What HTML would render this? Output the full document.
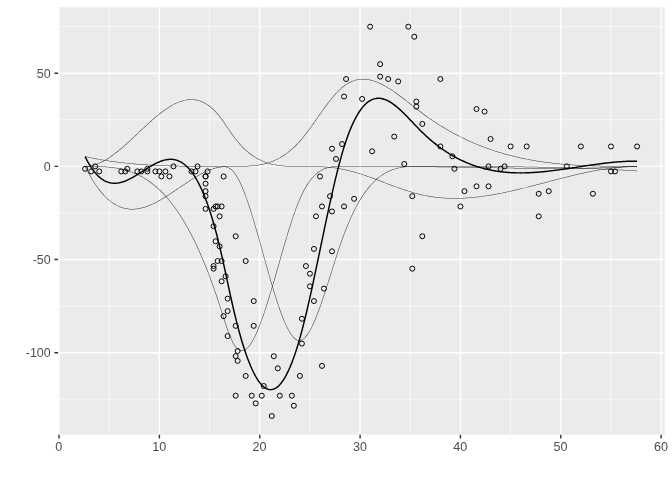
<!DOCTYPE html>
<html><head><meta charset="utf-8"><title>plot</title>
<style>html,body{margin:0;padding:0;background:#fff}svg{display:block}text{font-family:"Liberation Sans",sans-serif;font-size:12px;fill:#4d4d4d}</style></head><body>
<svg width="672" height="480" viewBox="0 0 672 480">
<rect width="672" height="480" fill="#fff"/>
<rect x="58.1" y="7.33" width="606.57" height="427.42" fill="#ebebeb"/>
<clipPath id="c"><rect x="58.1" y="7.33" width="606.57" height="427.42"/></clipPath>
<g clip-path="url(#c)">
<path d="M109.22 7.33V434.75M209.57 7.33V434.75M309.93 7.33V434.75M410.28 7.33V434.75M510.62 7.33V434.75M610.97 7.33V434.75M58.1 26.68H664.67M58.1 119.82H664.67M58.1 212.96H664.67M58.1 306.10H664.67M58.1 399.24H664.67" stroke="#fff" stroke-width="0.71" fill="none"/>
<path d="M59.05 7.33V434.75M159.40 7.33V434.75M259.75 7.33V434.75M360.10 7.33V434.75M460.45 7.33V434.75M560.80 7.33V434.75M661.15 7.33V434.75M58.1 73.25H664.67M58.1 166.39H664.67M58.1 259.53H664.67M58.1 352.67H664.67" stroke="#fff" stroke-width="1.42" fill="none"/>
<path d="M85.09 156.86L86.09 157.08L87.10 157.29L88.10 157.51L89.10 157.71L90.11 157.92L91.11 158.12L92.12 158.32L93.12 158.51L94.13 158.70L95.13 158.89L96.13 159.08L97.14 159.26L98.14 159.44L99.15 159.62L100.15 159.79L101.16 159.97L102.16 160.13L103.16 160.30L104.17 160.46L105.17 160.62L106.18 160.78L107.18 160.93L108.18 161.09L109.19 161.23L110.19 161.38L111.20 161.52L112.20 161.66L113.21 161.80L114.21 161.94L115.21 162.07L116.22 162.20L117.22 162.33L118.23 162.46L119.23 162.58L120.23 162.70L121.24 162.82L122.24 162.93L123.25 163.05L124.25 163.16L125.25 163.27L126.26 163.37L127.26 163.48L128.27 163.58L129.27 163.68L130.27 163.78L131.28 163.87L132.28 163.97L133.29 164.06L134.29 164.15L135.29 164.23L136.30 164.32L137.30 164.40L138.31 164.48L139.31 164.56L140.31 164.64L141.32 164.71L142.32 164.79L143.33 164.86L144.33 164.93L145.33 165.00L146.34 165.06L147.34 165.13L148.35 165.19L149.35 165.25L150.35 165.31L151.36 165.36L152.36 165.42L153.37 165.47L154.37 165.53L155.37 165.58L156.38 165.63L157.38 165.67L158.39 165.72L159.39 165.76L160.39 165.81L161.40 165.85L162.40 165.89L163.40 165.93L164.41 165.97L165.41 166.00L166.42 166.04L167.42 166.07L168.42 166.10L169.43 166.13L170.43 166.16L171.44 166.19L172.44 166.22L173.44 166.25L174.45 166.27L175.45 166.30L176.45 166.32L177.46 166.34L178.46 166.36L179.47 166.38L180.47 166.40L181.47 166.42L182.48 166.44L183.48 166.45L184.48 166.47L185.49 166.48L186.49 166.49L187.49 166.51L188.50 166.52L189.50 166.53L190.51 166.54L191.51 166.55L192.51 166.56L193.52 166.57L194.52 166.58L195.52 166.58L196.53 166.59L197.53 166.60L198.54 166.60L199.54 166.61L200.54 166.61L201.55 166.62L202.55 166.62L203.55 166.62L204.56 166.63L205.56 166.63L206.56 166.63L207.57 166.63L208.57 166.63L209.57 166.64L210.58 166.64L211.58 166.64L212.59 166.64L213.59 166.64L214.59 166.64L215.60 166.64L216.60 166.64L217.60 166.64L218.61 166.64L219.53 166.64L219.53 166.14L218.61 166.14L217.60 166.14L216.60 166.14L215.60 166.14L214.59 166.14L213.59 166.14L212.59 166.14L211.58 166.14L210.58 166.14L209.58 166.14L208.57 166.13L207.57 166.13L206.57 166.13L205.56 166.13L204.56 166.13L203.55 166.12L202.55 166.12L201.55 166.12L200.54 166.11L199.54 166.11L198.54 166.10L197.53 166.10L196.53 166.09L195.53 166.08L194.52 166.08L193.52 166.07L192.52 166.06L191.51 166.05L190.51 166.04L189.51 166.03L188.50 166.02L187.50 166.01L186.50 165.99L185.49 165.98L184.49 165.97L183.49 165.95L182.48 165.94L181.48 165.92L180.48 165.90L179.47 165.88L178.47 165.86L177.47 165.84L176.47 165.82L175.46 165.80L174.46 165.77L173.46 165.75L172.45 165.72L171.45 165.69L170.45 165.66L169.44 165.63L168.44 165.60L167.44 165.57L166.43 165.54L165.43 165.50L164.43 165.47L163.42 165.43L162.42 165.39L161.42 165.35L160.41 165.31L159.41 165.26L158.41 165.22L157.40 165.17L156.40 165.13L155.40 165.08L154.40 165.03L153.39 164.97L152.39 164.92L151.39 164.87L150.38 164.81L149.38 164.75L148.38 164.69L147.37 164.63L146.37 164.56L145.37 164.50L144.36 164.43L143.36 164.36L142.36 164.29L141.36 164.22L140.35 164.14L139.35 164.06L138.35 163.99L137.34 163.90L136.34 163.82L135.34 163.74L134.33 163.65L133.33 163.56L132.33 163.47L131.33 163.38L130.32 163.28L129.32 163.18L128.32 163.08L127.31 162.98L126.31 162.88L125.31 162.77L124.30 162.66L123.30 162.55L122.30 162.44L121.30 162.32L120.29 162.20L119.29 162.08L118.29 161.96L117.28 161.83L116.28 161.71L115.28 161.58L114.28 161.44L113.27 161.31L112.27 161.17L111.27 161.03L110.26 160.89L109.26 160.74L108.26 160.59L107.26 160.44L106.25 160.29L105.25 160.13L104.25 159.97L103.24 159.81L102.24 159.64L101.24 159.47L100.24 159.30L99.23 159.13L98.23 158.95L97.23 158.77L96.22 158.59L95.22 158.40L94.22 158.21L93.22 158.02L92.21 157.83L91.21 157.63L90.21 157.43L89.21 157.22L88.20 157.02L87.20 156.81L86.20 156.59L85.19 156.37Z" fill="#000" fill-opacity="0.8" stroke="none"/>
<path d="M84.92 166.50L85.92 168.53L86.93 170.50L87.93 172.41L88.94 174.27L89.94 176.07L90.95 177.82L91.95 179.51L92.96 181.15L93.96 182.73L94.97 184.27L95.97 185.74L96.98 187.17L97.99 188.55L98.99 189.88L100.00 191.15L101.01 192.38L102.01 193.56L103.02 194.69L104.03 195.78L105.03 196.81L106.04 197.80L107.05 198.75L108.06 199.65L109.07 200.51L110.07 201.32L111.08 202.10L112.09 202.82L113.10 203.51L114.11 204.16L115.12 204.76L116.13 205.33L117.14 205.86L118.15 206.34L119.16 206.79L120.17 207.21L121.18 207.58L122.19 207.92L123.21 208.22L124.22 208.49L125.23 208.73L126.24 208.93L127.25 209.09L128.26 209.23L129.27 209.33L130.28 209.40L131.30 209.44L132.31 209.45L133.32 209.44L134.33 209.39L135.34 209.31L136.35 209.21L137.36 209.08L138.37 208.93L139.38 208.75L140.39 208.54L141.40 208.31L142.40 208.06L143.41 207.78L144.42 207.48L145.43 207.16L146.44 206.82L147.44 206.46L148.45 206.07L149.46 205.67L150.47 205.25L151.47 204.82L152.48 204.36L153.49 203.89L154.49 203.40L155.50 202.90L156.51 202.38L157.51 201.85L158.52 201.31L159.52 200.75L160.53 200.18L161.53 199.60L162.54 199.01L163.54 198.41L164.55 197.79L165.55 197.17L166.56 196.54L167.56 195.90L168.57 195.26L169.57 194.61L170.58 193.95L171.58 193.29L172.58 192.62L173.59 191.95L174.59 191.27L175.60 190.59L176.60 189.91L177.60 189.23L178.61 188.55L179.61 187.87L180.61 187.18L181.62 186.50L182.62 185.82L183.62 185.14L184.63 184.47L185.63 183.80L186.63 183.13L187.64 182.47L188.64 181.81L189.64 181.16L190.64 180.51L191.65 179.87L192.65 179.24L193.65 178.62L194.65 178.01L195.65 177.40L196.66 176.81L197.66 176.23L198.66 175.66L199.66 175.10L200.66 174.55L201.66 174.02L202.66 173.50L203.67 173.00L204.67 172.51L205.67 172.04L206.67 171.58L207.67 171.14L208.67 170.72L209.67 170.32L210.67 169.94L211.67 169.57L212.66 169.23L213.66 168.91L214.66 168.61L215.66 168.33L216.66 168.07L217.66 167.84L218.66 167.63L219.58 167.45L219.65 167.44L220.65 167.28L221.65 167.14L222.65 167.03L223.65 166.93L224.65 166.85L225.65 166.79L226.65 166.74L227.65 166.70L228.65 166.67L229.65 166.66L230.65 166.65L231.65 166.64L232.66 166.64L233.54 166.64L233.54 166.14L232.66 166.14L231.65 166.14L230.65 166.15L229.64 166.16L228.64 166.18L227.63 166.20L226.62 166.24L225.62 166.29L224.61 166.35L223.60 166.43L222.59 166.53L221.59 166.65L220.58 166.79L219.57 166.95L219.49 166.96L218.56 167.13L217.55 167.35L216.54 167.58L215.53 167.84L214.52 168.12L213.51 168.43L212.51 168.76L211.50 169.10L210.49 169.47L209.48 169.86L208.48 170.26L207.47 170.69L206.46 171.13L205.46 171.59L204.45 172.06L203.44 172.55L202.44 173.06L201.43 173.58L200.43 174.11L199.42 174.66L198.41 175.22L197.41 175.80L196.40 176.38L195.40 176.98L194.39 177.58L193.39 178.19L192.38 178.82L191.38 179.45L190.37 180.09L189.37 180.74L188.36 181.39L187.36 182.05L186.36 182.71L185.35 183.38L184.35 184.05L183.34 184.73L182.34 185.41L181.34 186.09L180.33 186.77L179.33 187.45L178.33 188.14L177.32 188.82L176.32 189.50L175.32 190.18L174.31 190.86L173.31 191.53L172.31 192.20L171.30 192.87L170.30 193.53L169.30 194.19L168.30 194.84L167.29 195.48L166.29 196.12L165.29 196.75L164.29 197.37L163.28 197.98L162.28 198.58L161.28 199.17L160.28 199.75L159.28 200.32L158.28 200.87L157.28 201.41L156.27 201.94L155.27 202.46L154.27 202.96L153.27 203.44L152.27 203.91L151.27 204.36L150.27 204.79L149.27 205.21L148.27 205.61L147.27 205.99L146.27 206.35L145.27 206.69L144.27 207.00L143.28 207.30L142.28 207.57L141.28 207.82L140.28 208.05L139.28 208.25L138.29 208.43L137.29 208.59L136.29 208.71L135.29 208.82L134.30 208.89L133.30 208.94L132.30 208.95L131.31 208.94L130.31 208.90L129.32 208.83L128.32 208.73L127.32 208.60L126.33 208.43L125.33 208.24L124.34 208.01L123.34 207.74L122.35 207.44L121.35 207.11L120.35 206.74L119.36 206.33L118.36 205.89L117.37 205.41L116.37 204.89L115.37 204.33L114.37 203.73L113.38 203.09L112.38 202.42L111.38 201.69L110.38 200.93L109.38 200.13L108.39 199.28L107.39 198.38L106.39 197.44L105.39 196.46L104.39 195.43L103.39 194.35L102.39 193.23L101.39 192.06L100.39 190.84L99.39 189.57L98.39 188.25L97.39 186.88L96.39 185.46L95.38 183.99L94.38 182.46L93.38 180.88L92.38 179.25L91.38 177.57L90.38 175.83L89.37 174.03L88.37 172.18L87.37 170.27L86.37 168.30L85.37 166.28Z" fill="#000" fill-opacity="0.8" stroke="none"/>
<path d="M85.15 166.64L86.15 166.62L87.17 166.57L88.18 166.48L89.19 166.36L90.20 166.20L91.21 166.01L92.22 165.79L93.23 165.54L94.24 165.26L95.25 164.95L96.26 164.61L97.27 164.24L98.28 163.84L99.29 163.42L100.30 162.97L101.31 162.49L102.31 161.99L103.32 161.46L104.33 160.91L105.34 160.34L106.34 159.75L107.35 159.13L108.36 158.50L109.36 157.84L110.37 157.16L111.38 156.47L112.38 155.75L113.39 155.02L114.39 154.28L115.40 153.51L116.40 152.73L117.41 151.94L118.41 151.13L119.42 150.31L120.42 149.47L121.43 148.63L122.43 147.77L123.44 146.90L124.44 146.02L125.45 145.14L126.45 144.24L127.46 143.34L128.46 142.42L129.46 141.51L130.47 140.58L131.47 139.65L132.48 138.72L133.48 137.78L134.48 136.84L135.49 135.90L136.49 134.95L137.49 134.00L138.50 133.06L139.50 132.11L140.50 131.16L141.51 130.22L142.51 129.27L143.51 128.33L144.52 127.40L145.52 126.47L146.52 125.54L147.53 124.62L148.53 123.70L149.53 122.79L150.54 121.89L151.54 121.00L152.54 120.12L153.54 119.24L154.55 118.38L155.55 117.52L156.55 116.68L157.55 115.86L158.55 115.04L159.56 114.24L160.56 113.45L161.56 112.68L162.56 111.92L163.56 111.18L164.56 110.46L165.56 109.75L166.56 109.06L167.57 108.40L168.57 107.75L169.57 107.12L170.57 106.51L171.57 105.93L172.57 105.37L173.57 104.83L174.56 104.31L175.56 103.82L176.56 103.36L177.56 102.92L178.56 102.50L179.56 102.12L180.56 101.76L181.55 101.43L182.55 101.13L183.55 100.86L184.54 100.62L185.54 100.41L186.53 100.23L187.53 100.09L188.53 99.97L189.52 99.90L190.52 99.85L191.51 99.84L192.50 99.87L193.50 99.93L194.49 100.03L195.49 100.17L196.48 100.35L197.48 100.56L198.47 100.82L199.46 101.11L200.46 101.45L201.45 101.83L202.45 102.25L203.44 102.71L204.44 103.22L205.44 103.77L206.43 104.37L207.43 105.01L208.43 105.70L209.42 106.44L210.42 107.23L211.42 108.06L212.42 108.95L213.42 109.88L214.41 110.87L215.41 111.91L216.41 113.00L217.41 114.14L218.41 115.34L219.34 116.49L219.41 116.59L220.41 117.89L221.41 119.25L222.42 120.64L223.42 122.07L224.42 123.52L225.42 125.00L226.43 126.49L227.43 127.98L228.43 129.48L229.44 130.97L230.44 132.44L231.45 133.89L232.45 135.31L233.34 136.54L233.46 136.70L234.46 138.05L235.47 139.36L236.47 140.62L237.48 141.85L238.49 143.04L239.49 144.19L240.50 145.30L241.51 146.37L242.51 147.41L243.52 148.41L244.53 149.38L245.53 150.31L246.54 151.21L247.55 152.07L248.55 152.90L249.56 153.70L250.57 154.47L251.58 155.20L252.58 155.91L253.59 156.59L254.60 157.24L255.61 157.85L256.62 158.45L257.62 159.01L258.63 159.55L259.64 160.06L260.65 160.55L261.66 161.01L262.66 161.45L263.67 161.86L264.68 162.25L265.69 162.62L266.69 162.97L267.70 163.30L268.71 163.61L269.72 163.90L270.73 164.17L271.73 164.42L272.74 164.65L273.75 164.87L274.76 165.07L275.76 165.25L276.77 165.42L277.78 165.58L278.78 165.72L279.79 165.85L280.80 165.96L281.80 166.07L282.81 166.16L283.81 166.24L284.82 166.31L285.83 166.38L286.83 166.43L287.84 166.48L288.84 166.52L289.85 166.55L290.85 166.57L291.86 166.59L292.86 166.61L293.87 166.62L294.87 166.63L295.87 166.64L296.88 166.64L297.88 166.64L298.89 166.64L299.44 166.64L299.44 166.14L298.89 166.14L297.88 166.14L296.88 166.14L295.88 166.14L294.87 166.13L293.87 166.12L292.87 166.11L291.87 166.09L290.86 166.07L289.86 166.05L288.86 166.02L287.86 165.98L286.86 165.93L285.86 165.88L284.85 165.81L283.85 165.74L282.85 165.66L281.85 165.57L280.85 165.47L279.85 165.35L278.85 165.22L277.85 165.08L276.85 164.93L275.85 164.76L274.85 164.58L273.85 164.38L272.85 164.16L271.85 163.93L270.85 163.68L269.85 163.42L268.85 163.13L267.85 162.82L266.85 162.50L265.85 162.15L264.86 161.79L263.86 161.40L262.86 160.99L261.86 160.55L260.86 160.09L259.86 159.61L258.86 159.11L257.86 158.57L256.86 158.01L255.86 157.43L254.87 156.81L253.87 156.17L252.87 155.50L251.87 154.80L250.87 154.07L249.87 153.31L248.87 152.51L247.87 151.69L246.87 150.83L245.87 149.94L244.87 149.01L243.87 148.05L242.87 147.06L241.87 146.03L240.87 144.96L239.87 143.85L238.87 142.71L237.87 141.53L236.86 140.31L235.86 139.05L234.86 137.75L233.86 136.41L233.74 136.24L232.86 135.02L231.86 133.60L230.85 132.16L229.85 130.69L228.85 129.20L227.85 127.71L226.84 126.21L225.84 124.72L224.83 123.24L223.83 121.78L222.82 120.35L221.82 118.95L220.81 117.59L219.81 116.28L219.73 116.18L218.80 115.02L217.79 113.82L216.79 112.66L215.78 111.57L214.77 110.52L213.76 109.52L212.75 108.58L211.75 107.69L210.74 106.84L209.73 106.05L208.72 105.30L207.71 104.60L206.70 103.95L205.69 103.34L204.67 102.78L203.66 102.26L202.65 101.79L201.64 101.36L200.63 100.98L199.62 100.64L198.60 100.33L197.59 100.08L196.58 99.86L195.56 99.68L194.55 99.54L193.54 99.43L192.53 99.37L191.51 99.34L190.50 99.35L189.49 99.40L188.48 99.48L187.47 99.59L186.45 99.74L185.44 99.92L184.43 100.13L183.42 100.37L182.41 100.65L181.40 100.95L180.39 101.29L179.38 101.65L178.37 102.04L177.36 102.46L176.36 102.90L175.35 103.37L174.34 103.87L173.33 104.39L172.32 104.93L171.32 105.50L170.31 106.08L169.30 106.69L168.30 107.33L167.29 107.98L166.28 108.65L165.28 109.34L164.27 110.05L163.27 110.78L162.26 111.52L161.26 112.28L160.25 113.06L159.24 113.85L158.24 114.65L157.23 115.47L156.23 116.30L155.22 117.14L154.22 118.00L153.22 118.86L152.21 119.74L151.21 120.62L150.20 121.52L149.20 122.42L148.19 123.33L147.19 124.25L146.19 125.17L145.18 126.10L144.18 127.03L143.17 127.97L142.17 128.91L141.17 129.85L140.16 130.80L139.16 131.74L138.15 132.69L137.15 133.64L136.15 134.59L135.14 135.53L134.14 136.47L133.14 137.42L132.14 138.35L131.13 139.29L130.13 140.21L129.13 141.14L128.12 142.05L127.12 142.97L126.12 143.87L125.11 144.76L124.11 145.65L123.11 146.53L122.11 147.39L121.11 148.25L120.10 149.09L119.10 149.92L118.10 150.74L117.10 151.55L116.10 152.34L115.09 153.11L114.09 153.88L113.09 154.62L112.09 155.35L111.09 156.06L110.09 156.75L109.09 157.42L108.09 158.08L107.09 158.71L106.09 159.32L105.09 159.91L104.09 160.48L103.09 161.02L102.09 161.54L101.09 162.04L100.09 162.51L99.09 162.96L98.09 163.38L97.09 163.77L96.10 164.14L95.10 164.47L94.10 164.78L93.11 165.06L92.11 165.31L91.11 165.52L90.12 165.71L89.12 165.86L88.13 165.98L87.13 166.07L86.14 166.12L85.14 166.14Z" fill="#000" fill-opacity="0.8" stroke="none"/>
<path d="M85.14 166.64L86.14 166.64L87.15 166.64L88.15 166.64L89.15 166.64L90.16 166.65L91.16 166.65L92.16 166.66L93.17 166.67L94.17 166.68L95.17 166.70L96.17 166.72L97.18 166.74L98.18 166.77L99.18 166.80L100.18 166.83L101.19 166.88L102.19 166.92L103.19 166.98L104.19 167.04L105.19 167.10L106.20 167.17L107.20 167.25L108.20 167.34L109.20 167.44L110.20 167.54L111.20 167.65L112.20 167.77L113.21 167.90L114.21 168.04L115.21 168.20L116.21 168.36L117.21 168.53L118.21 168.71L119.21 168.90L120.21 169.11L121.21 169.33L122.21 169.56L123.21 169.80L124.21 170.06L125.21 170.32L126.21 170.61L127.22 170.90L128.22 171.22L129.22 171.54L130.22 171.88L131.22 172.24L132.22 172.62L133.22 173.00L134.22 173.41L135.22 173.83L136.22 174.27L137.22 174.73L138.22 175.21L139.22 175.70L140.22 176.21L141.22 176.74L142.22 177.30L143.22 177.87L144.22 178.46L145.22 179.07L146.22 179.70L147.22 180.35L148.22 181.03L149.22 181.72L150.22 182.44L151.22 183.18L152.22 183.94L153.22 184.73L154.22 185.54L155.22 186.38L156.23 187.23L157.23 188.12L158.23 189.02L159.23 189.96L160.23 190.92L161.23 191.90L162.23 192.91L163.23 193.95L164.23 195.01L165.24 196.11L166.24 197.22L167.24 198.37L168.24 199.55L169.24 200.75L170.24 201.99L171.25 203.25L172.25 204.54L173.25 205.87L174.25 207.22L175.25 208.61L176.25 210.02L177.26 211.47L178.26 212.95L179.26 214.46L180.26 216.00L181.27 217.58L182.27 219.19L183.27 220.84L184.27 222.51L185.27 224.23L186.28 225.97L187.28 227.75L188.28 229.57L189.28 231.42L190.29 233.31L191.29 235.24L192.29 237.20L193.30 239.20L194.30 241.24L195.30 243.31L196.30 245.42L197.31 247.57L198.31 249.76L199.31 251.99L200.31 254.26L201.32 256.57L202.32 258.92L203.32 261.31L204.33 263.73L205.33 266.21L206.33 268.72L207.34 271.27L208.34 273.87L209.34 276.51L210.34 279.19L211.35 281.92L212.35 284.69L213.35 287.50L214.36 290.36L215.36 293.26L216.36 296.21L217.37 299.20L218.37 302.24L219.29 305.08L219.37 305.32L220.38 308.45L221.38 311.60L222.38 314.76L223.39 317.90L224.39 321.00L225.39 324.05L226.40 327.03L227.40 329.90L228.41 332.66L229.41 335.29L230.42 337.75L231.42 340.04L232.43 342.13L233.32 343.80L233.45 344.02L234.45 345.66L235.47 347.08L236.49 348.27L237.51 349.25L238.54 350.01L239.58 350.56L240.63 350.90L241.68 351.04L242.73 350.97L243.78 350.71L244.81 350.26L245.84 349.63L246.87 348.83L247.89 347.86L248.90 346.73L249.92 345.45L250.93 344.02L251.94 342.44L252.94 340.73L253.95 338.87L254.96 336.89L255.96 334.79L256.97 332.57L257.97 330.23L258.98 327.78L259.98 325.23L260.99 322.58L261.99 319.84L263.00 317.02L264.00 314.11L265.00 311.12L266.01 308.06L267.01 304.93L268.02 301.74L269.02 298.50L270.02 295.21L271.03 291.87L272.03 288.49L273.04 285.07L274.04 281.63L275.04 278.16L276.05 274.67L277.05 271.17L278.05 267.66L279.06 264.14L280.06 260.63L281.06 257.13L282.07 253.64L283.07 250.16L284.07 246.71L285.08 243.29L286.08 239.90L287.08 236.55L288.09 233.25L289.09 229.99L290.09 226.79L291.10 223.65L292.10 220.58L293.10 217.57L294.11 214.65L295.11 211.80L296.11 209.04L297.11 206.37L298.12 203.80L299.12 201.33L299.67 200.02L300.12 198.98L301.12 196.72L302.12 194.58L303.12 192.54L304.12 190.60L305.13 188.77L306.13 187.03L307.13 185.38L308.13 183.82L309.13 182.36L310.13 180.98L311.12 179.68L312.12 178.46L313.12 177.32L314.12 176.26L315.12 175.27L316.11 174.36L317.11 173.51L318.10 172.72L319.10 172.00L320.09 171.33L321.09 170.73L322.08 170.18L323.08 169.68L324.07 169.23L325.07 168.83L326.06 168.47L327.06 168.15L328.05 167.87L329.05 167.63L330.04 167.42L331.04 167.25L332.04 167.10L333.03 166.98L334.03 166.88L335.03 166.80L336.03 166.74L337.03 166.70L338.03 166.67L339.03 166.65L340.03 166.64L341.03 166.64L342.04 166.64L342.25 166.64L342.25 166.14L342.04 166.14L341.03 166.14L340.03 166.14L339.02 166.15L338.02 166.17L337.01 166.20L336.00 166.24L335.00 166.30L333.99 166.38L332.98 166.48L331.97 166.60L330.96 166.75L329.95 166.93L328.94 167.14L327.92 167.39L326.91 167.67L325.90 167.99L324.89 168.36L323.88 168.77L322.86 169.23L321.85 169.74L320.84 170.30L319.83 170.91L318.81 171.59L317.80 172.32L316.79 173.12L315.78 173.98L314.77 174.91L313.76 175.91L312.75 176.99L311.74 178.14L310.73 179.37L309.72 180.68L308.72 182.07L307.71 183.55L306.70 185.11L305.70 186.77L304.69 188.52L303.68 190.37L302.68 192.32L301.67 194.36L300.67 196.52L299.66 198.77L299.21 199.82L298.66 201.14L297.65 203.62L296.65 206.19L295.64 208.87L294.64 211.63L293.63 214.48L292.63 217.41L291.62 220.42L290.62 223.50L289.62 226.64L288.61 229.84L287.61 233.10L286.61 236.41L285.60 239.76L284.60 243.15L283.59 246.57L282.59 250.02L281.59 253.50L280.58 256.99L279.58 260.50L278.58 264.01L277.57 267.52L276.57 271.03L275.57 274.53L274.56 278.02L273.56 281.49L272.56 284.93L271.55 288.35L270.55 291.72L269.55 295.06L268.54 298.35L267.54 301.60L266.54 304.78L265.53 307.90L264.53 310.96L263.53 313.94L262.52 316.85L261.52 319.67L260.52 322.41L259.52 325.05L258.51 327.59L257.51 330.03L256.51 332.36L255.51 334.58L254.51 336.67L253.51 338.64L252.51 340.48L251.51 342.18L250.51 343.74L249.51 345.15L248.52 346.41L247.53 347.51L246.54 348.45L245.56 349.22L244.58 349.82L243.61 350.24L242.65 350.48L241.70 350.54L240.74 350.42L239.78 350.10L238.81 349.59L237.83 348.87L236.85 347.93L235.86 346.77L234.87 345.38L233.87 343.76L233.76 343.56L232.88 341.91L231.88 339.83L230.88 337.56L229.88 335.10L228.88 332.49L227.87 329.73L226.87 326.86L225.87 323.89L224.87 320.85L223.86 317.75L222.86 314.61L221.86 311.45L220.85 308.30L219.85 305.17L219.77 304.92L218.84 302.08L217.84 299.04L216.84 296.05L215.83 293.10L214.83 290.19L213.82 287.33L212.82 284.52L211.82 281.75L210.81 279.02L209.81 276.33L208.80 273.69L207.80 271.09L206.80 268.53L205.79 266.02L204.79 263.55L203.78 261.11L202.78 258.72L201.78 256.37L200.77 254.06L199.77 251.79L198.76 249.56L197.76 247.36L196.76 245.21L195.75 243.09L194.75 241.02L193.74 238.98L192.74 236.97L191.73 235.01L190.73 233.08L189.73 231.19L188.72 229.33L187.72 227.51L186.71 225.72L185.71 223.97L184.70 222.26L183.70 220.58L182.69 218.93L181.69 217.31L180.68 215.73L179.68 214.19L178.67 212.67L177.67 211.19L176.66 209.74L175.66 208.31L174.65 206.93L173.65 205.57L172.64 204.24L171.64 202.94L170.63 201.67L169.63 200.44L168.62 199.23L167.62 198.05L166.61 196.89L165.61 195.77L164.60 194.67L163.60 193.60L162.59 192.56L161.58 191.55L160.58 190.56L159.57 189.59L158.57 188.66L157.56 187.74L156.55 186.86L155.55 185.99L154.54 185.16L153.53 184.34L152.53 183.55L151.52 182.78L150.52 182.04L149.51 181.31L148.50 180.61L147.50 179.94L146.49 179.28L145.48 178.64L144.48 178.03L143.47 177.43L142.46 176.86L141.46 176.30L140.45 175.77L139.44 175.25L138.44 174.76L137.43 174.28L136.42 173.82L135.42 173.37L134.41 172.95L133.40 172.54L132.39 172.15L131.39 171.77L130.38 171.41L129.37 171.07L128.37 170.74L127.36 170.43L126.35 170.13L125.35 169.84L124.34 169.57L123.33 169.31L122.33 169.07L121.32 168.84L120.32 168.62L119.31 168.41L118.30 168.22L117.30 168.03L116.29 167.86L115.28 167.70L114.28 167.55L113.27 167.41L112.27 167.28L111.26 167.16L110.26 167.04L109.25 166.94L108.24 166.84L107.24 166.76L106.23 166.68L105.23 166.60L104.22 166.54L103.22 166.48L102.21 166.42L101.21 166.38L100.20 166.33L99.20 166.30L98.19 166.27L97.19 166.24L96.18 166.22L95.18 166.20L94.18 166.18L93.17 166.17L92.17 166.16L91.16 166.15L90.16 166.15L89.16 166.14L88.15 166.14L87.15 166.14L86.14 166.14L85.14 166.14Z" fill="#000" fill-opacity="0.8" stroke="none"/>
<path d="M219.53 166.64L219.61 166.64L220.61 166.64L221.61 166.66L222.61 166.70L223.60 166.77L224.59 166.90L225.58 167.08L226.56 167.33L227.55 167.66L228.53 168.09L229.52 168.63L230.50 169.28L231.49 170.06L232.48 170.98L233.36 171.93L233.46 172.06L234.46 173.30L235.46 174.71L236.46 176.27L237.46 177.98L238.45 179.83L239.46 181.82L240.46 183.94L241.46 186.18L242.46 188.55L243.46 191.03L244.46 193.63L245.47 196.32L246.47 199.11L247.47 202.00L248.47 204.97L249.48 208.03L250.48 211.16L251.48 214.36L252.49 217.62L253.49 220.94L254.49 224.32L255.50 227.74L256.50 231.21L257.50 234.71L258.51 238.24L259.51 241.80L260.51 245.38L261.52 248.97L262.52 252.57L263.52 256.17L264.53 259.77L265.53 263.36L266.53 266.94L267.54 270.50L268.54 274.03L269.54 277.53L270.55 281.00L271.55 284.43L272.56 287.80L273.56 291.13L274.56 294.39L275.57 297.60L276.57 300.73L277.58 303.79L278.58 306.76L279.58 309.65L280.59 312.45L281.59 315.15L282.60 317.75L283.60 320.24L284.61 322.62L285.61 324.87L286.62 327.00L287.63 329.01L288.63 330.87L289.64 332.59L290.65 334.17L291.66 335.60L292.68 336.86L293.69 337.97L294.71 338.90L295.74 339.67L296.77 340.25L297.82 340.64L298.85 340.83L299.44 340.84L299.93 340.81L300.97 340.59L302.01 340.17L303.04 339.56L304.07 338.78L305.09 337.82L306.10 336.70L307.11 335.41L308.13 333.98L309.13 332.40L310.14 330.69L311.15 328.83L312.16 326.85L313.16 324.76L314.17 322.54L315.17 320.22L316.18 317.79L317.18 315.27L318.19 312.66L319.19 309.97L320.20 307.20L321.20 304.36L322.20 301.46L323.21 298.50L324.21 295.48L325.22 292.43L326.22 289.33L327.22 286.20L328.23 283.05L329.23 279.88L330.23 276.69L331.24 273.50L332.24 270.31L333.24 267.12L334.25 263.95L335.25 260.80L336.25 257.67L337.26 254.57L338.26 251.52L339.26 248.50L340.27 245.54L341.27 242.64L342.27 239.79L342.49 239.19L343.28 237.03L344.28 234.33L345.28 231.70L346.28 229.13L347.29 226.64L348.29 224.22L349.29 221.86L350.29 219.56L351.30 217.33L352.30 215.17L353.30 213.06L354.30 211.02L355.30 209.04L356.31 207.12L357.31 205.26L358.31 203.46L359.31 201.71L360.31 200.02L361.32 198.38L362.32 196.80L363.32 195.27L364.32 193.80L365.32 192.38L366.32 191.00L367.32 189.68L368.32 188.41L369.32 187.18L370.32 186.00L371.32 184.87L372.32 183.78L373.32 182.74L374.32 181.74L375.32 180.78L376.32 179.87L377.32 178.99L378.32 178.15L379.32 177.36L380.32 176.60L381.32 175.87L382.32 175.19L383.31 174.54L384.31 173.92L385.31 173.33L386.31 172.78L387.31 172.26L388.31 171.77L389.30 171.31L390.30 170.88L391.30 170.47L392.30 170.09L393.30 169.74L394.29 169.41L395.29 169.11L396.29 168.83L397.29 168.57L398.29 168.33L399.29 168.11L400.29 167.92L401.29 167.74L402.28 167.58L403.28 167.43L404.28 167.30L405.28 167.19L406.28 167.09L407.28 167.00L408.29 166.93L409.29 166.86L410.29 166.81L411.29 166.76L412.29 166.73L413.29 166.70L414.29 166.68L415.30 166.66L416.30 166.65L417.30 166.65L418.30 166.64L419.31 166.64L420.31 166.64L420.64 166.64L420.64 166.14L420.31 166.14L419.31 166.14L418.30 166.14L417.30 166.15L416.29 166.15L415.29 166.16L414.28 166.18L413.28 166.20L412.27 166.23L411.27 166.26L410.26 166.31L409.26 166.36L408.25 166.43L407.24 166.50L406.24 166.59L405.23 166.69L404.22 166.81L403.22 166.94L402.21 167.08L401.20 167.25L400.19 167.43L399.19 167.63L398.18 167.84L397.17 168.08L396.16 168.35L395.15 168.63L394.14 168.94L393.13 169.27L392.13 169.62L391.12 170.01L390.11 170.42L389.10 170.85L388.09 171.32L387.08 171.81L386.07 172.34L385.06 172.90L384.06 173.49L383.05 174.11L382.04 174.77L381.03 175.47L380.02 176.20L379.01 176.96L378.00 177.77L377.00 178.61L375.99 179.49L374.98 180.42L373.97 181.38L372.97 182.39L371.96 183.44L370.95 184.54L369.95 185.68L368.94 186.86L367.93 188.10L366.93 189.38L365.92 190.71L364.91 192.09L363.91 193.52L362.90 195.00L361.90 196.53L360.89 198.12L359.89 199.76L358.88 201.46L357.88 203.21L356.87 205.02L355.87 206.89L354.86 208.81L353.86 210.80L352.85 212.85L351.85 214.96L350.84 217.13L349.84 219.36L348.83 221.66L347.83 224.02L346.82 226.45L345.82 228.95L344.81 231.52L343.81 234.15L342.81 236.85L342.02 239.02L341.80 239.63L340.80 242.47L339.79 245.38L338.79 248.34L337.79 251.36L336.78 254.42L335.78 257.52L334.77 260.64L333.77 263.80L332.77 266.97L331.76 270.16L330.76 273.35L329.76 276.54L328.75 279.73L327.75 282.90L326.75 286.05L325.74 289.18L324.74 292.27L323.74 295.33L322.73 298.34L321.73 301.29L320.73 304.20L319.72 307.03L318.72 309.80L317.72 312.49L316.72 315.09L315.71 317.60L314.71 320.02L313.71 322.34L312.71 324.54L311.71 326.63L310.71 328.60L309.71 330.44L308.71 332.14L307.71 333.70L306.71 335.12L305.72 336.37L304.73 337.47L303.74 338.40L302.76 339.15L301.79 339.72L300.82 340.11L299.85 340.32L299.44 340.34L298.92 340.33L297.95 340.15L296.99 339.79L296.01 339.25L295.03 338.52L294.05 337.61L293.06 336.54L292.06 335.30L291.07 333.89L290.07 332.33L289.07 330.63L288.07 328.77L287.07 326.79L286.07 324.66L285.07 322.42L284.07 320.05L283.06 317.57L282.06 314.98L281.06 312.28L280.06 309.49L279.05 306.60L278.05 303.63L277.05 300.57L276.04 297.45L275.04 294.25L274.04 290.98L273.03 287.66L272.03 284.28L271.03 280.86L270.03 277.40L269.02 273.89L268.02 270.36L267.02 266.80L266.01 263.23L265.01 259.63L264.00 256.04L263.00 252.43L262.00 248.83L260.99 245.24L259.99 241.66L258.99 238.10L257.98 234.57L256.98 231.07L255.98 227.60L254.97 224.18L253.97 220.80L252.96 217.47L251.96 214.21L250.96 211.01L249.95 207.87L248.95 204.82L247.94 201.84L246.94 198.95L245.94 196.15L244.93 193.45L243.93 190.85L242.92 188.36L241.92 185.98L240.91 183.73L239.90 181.60L238.90 179.60L237.89 177.73L236.88 176.01L235.87 174.43L234.86 173.00L233.85 171.74L233.72 171.59L232.83 170.63L231.82 169.68L230.80 168.87L229.77 168.20L228.75 167.64L227.73 167.20L226.71 166.85L225.68 166.59L224.67 166.40L223.65 166.28L222.63 166.20L221.62 166.16L220.62 166.14L219.61 166.14L219.53 166.14Z" fill="#000" fill-opacity="0.8" stroke="none"/>
<path d="M233.54 166.64L233.66 166.64L234.66 166.64L235.67 166.64L236.67 166.64L237.67 166.63L238.68 166.63L239.68 166.62L240.69 166.61L241.69 166.59L242.70 166.57L243.70 166.55L244.71 166.52L245.71 166.48L246.72 166.44L247.72 166.39L248.73 166.34L249.73 166.27L250.74 166.20L251.74 166.12L252.75 166.03L253.76 165.93L254.76 165.82L255.77 165.70L256.77 165.56L257.78 165.42L258.79 165.26L259.79 165.08L260.80 164.90L261.81 164.70L262.81 164.48L263.82 164.25L264.83 164.01L265.84 163.75L266.84 163.47L267.85 163.17L268.86 162.86L269.87 162.52L270.87 162.17L271.88 161.80L272.89 161.41L273.90 161.00L274.90 160.57L275.91 160.11L276.92 159.63L277.93 159.14L278.93 158.61L279.94 158.07L280.95 157.50L281.96 156.90L282.96 156.28L283.97 155.64L284.98 154.97L285.99 154.27L286.99 153.54L288.00 152.79L289.01 152.01L290.01 151.20L291.02 150.36L292.03 149.49L293.03 148.58L294.04 147.65L295.05 146.69L296.05 145.70L297.06 144.67L298.07 143.61L299.07 142.52L299.63 141.90L300.08 141.39L301.08 140.23L302.09 139.04L303.09 137.81L304.10 136.57L305.10 135.29L306.11 133.99L307.11 132.67L308.12 131.33L309.12 129.98L310.13 128.60L311.13 127.21L312.14 125.82L313.14 124.41L314.14 122.99L315.15 121.56L316.15 120.13L317.15 118.70L318.16 117.27L319.16 115.84L320.16 114.41L321.17 112.99L322.17 111.58L323.17 110.17L324.18 108.77L325.18 107.39L326.18 106.02L327.18 104.67L328.19 103.34L329.19 102.03L330.19 100.74L331.19 99.48L332.20 98.24L333.20 97.03L334.20 95.85L335.20 94.70L336.20 93.59L337.20 92.51L338.20 91.48L339.20 90.48L340.20 89.52L341.20 88.61L342.20 87.74L342.41 87.56L343.20 86.92L344.19 86.15L345.19 85.42L346.19 84.74L347.19 84.11L348.18 83.51L349.18 82.97L350.17 82.46L351.17 82.00L352.17 81.58L353.16 81.20L354.16 80.86L355.15 80.56L356.15 80.30L357.14 80.07L358.13 79.88L359.13 79.73L360.12 79.62L361.12 79.54L362.11 79.49L363.11 79.48L364.10 79.50L365.10 79.55L366.10 79.64L367.09 79.75L368.09 79.90L369.08 80.07L370.08 80.28L371.08 80.51L372.08 80.77L373.07 81.06L374.07 81.37L375.07 81.71L376.07 82.07L377.07 82.46L378.07 82.87L379.06 83.30L380.06 83.76L381.06 84.23L382.06 84.73L383.06 85.25L384.06 85.78L385.06 86.34L386.07 86.91L387.07 87.50L388.07 88.11L389.07 88.73L390.07 89.37L391.07 90.02L392.07 90.68L393.07 91.36L394.08 92.05L395.08 92.75L396.08 93.47L397.08 94.19L398.08 94.92L399.09 95.66L400.09 96.41L401.09 97.17L402.10 97.93L403.10 98.70L404.10 99.47L405.10 100.25L406.11 101.03L407.11 101.82L408.11 102.61L409.12 103.40L410.12 104.19L411.12 104.98L412.13 105.77L413.13 106.56L414.13 107.35L415.14 108.13L416.14 108.91L417.15 109.69L418.15 110.46L419.15 111.23L420.16 111.99L420.49 112.24L421.16 112.75L422.17 113.50L423.17 114.24L424.18 114.97L425.18 115.70L426.19 116.42L427.19 117.14L428.19 117.84L429.20 118.54L430.20 119.24L431.21 119.92L432.21 120.61L433.22 121.28L434.22 121.95L435.23 122.61L436.23 123.26L437.23 123.91L438.24 124.55L439.24 125.18L440.25 125.81L441.25 126.43L442.26 127.05L443.26 127.66L444.27 128.26L445.27 128.86L446.27 129.45L447.28 130.03L448.28 130.61L449.29 131.18L450.29 131.75L451.30 132.31L452.30 132.86L453.31 133.41L454.31 133.95L455.32 134.49L456.32 135.02L457.32 135.54L458.33 136.06L459.33 136.57L460.34 137.08L461.34 137.58L462.35 138.08L463.35 138.57L464.36 139.05L465.36 139.53L466.37 140.00L467.37 140.47L468.37 140.93L469.38 141.39L470.38 141.84L471.39 142.28L472.39 142.72L473.40 143.16L474.40 143.59L475.41 144.01L476.41 144.43L477.41 144.85L478.42 145.25L479.42 145.66L480.43 146.06L481.43 146.45L482.44 146.84L483.44 147.22L484.45 147.60L485.45 147.97L486.46 148.34L487.46 148.70L488.46 149.06L489.47 149.42L490.47 149.77L491.48 150.11L492.48 150.45L493.49 150.79L494.49 151.12L495.50 151.44L496.50 151.76L497.50 152.08L498.51 152.39L499.51 152.70L500.52 153.00L501.52 153.30L502.53 153.60L503.53 153.89L504.54 154.17L505.54 154.45L506.54 154.73L507.55 155.00L508.55 155.27L509.56 155.53L510.56 155.80L511.57 156.05L512.57 156.30L513.58 156.55L514.58 156.80L515.58 157.04L516.59 157.27L517.59 157.50L518.60 157.73L519.60 157.96L520.61 158.18L521.61 158.40L522.62 158.61L523.62 158.82L524.62 159.02L525.63 159.23L526.63 159.42L527.64 159.62L528.64 159.81L529.65 160.00L530.65 160.18L531.65 160.36L532.66 160.54L533.66 160.72L534.67 160.89L535.67 161.06L536.68 161.22L537.68 161.38L538.68 161.54L539.69 161.69L540.69 161.84L541.70 161.99L542.70 162.14L543.71 162.28L544.71 162.42L545.71 162.56L546.72 162.69L547.72 162.82L548.73 162.95L549.73 163.07L550.74 163.19L551.74 163.31L552.74 163.43L553.75 163.54L554.75 163.65L555.76 163.76L556.76 163.86L557.76 163.97L558.77 164.07L559.77 164.17L560.78 164.26L561.78 164.35L562.78 164.44L563.79 164.53L564.79 164.62L565.80 164.70L566.80 164.78L567.81 164.86L568.81 164.94L569.81 165.01L570.82 165.08L571.82 165.15L572.83 165.22L573.83 165.28L574.83 165.35L575.84 165.41L576.84 165.47L577.85 165.53L578.85 165.58L579.85 165.64L580.86 165.69L581.86 165.74L582.87 165.79L583.87 165.83L584.87 165.88L585.88 165.92L586.88 165.96L587.88 166.00L588.89 166.04L589.89 166.08L590.90 166.11L591.90 166.15L592.90 166.18L593.91 166.21L594.91 166.24L595.92 166.27L596.92 166.29L597.92 166.32L598.93 166.34L599.93 166.37L600.93 166.39L601.94 166.41L602.94 166.43L603.95 166.45L604.95 166.46L605.95 166.48L606.96 166.49L607.96 166.51L608.96 166.52L609.97 166.53L610.97 166.54L611.98 166.56L612.98 166.57L613.98 166.57L614.99 166.58L615.99 166.59L616.99 166.60L618.00 166.60L619.00 166.61L620.01 166.61L621.01 166.62L622.01 166.62L623.02 166.63L624.02 166.63L625.02 166.63L626.03 166.63L627.03 166.63L628.03 166.64L629.04 166.64L630.04 166.64L631.04 166.64L632.05 166.64L633.05 166.64L634.06 166.64L635.06 166.64L636.06 166.64L637.07 166.64L637.07 166.14L636.06 166.14L635.06 166.14L634.06 166.14L633.05 166.14L632.05 166.14L631.05 166.14L630.04 166.14L629.04 166.14L628.03 166.14L627.03 166.13L626.03 166.13L625.02 166.13L624.02 166.13L623.02 166.13L622.01 166.12L621.01 166.12L620.01 166.11L619.00 166.11L618.00 166.10L617.00 166.10L615.99 166.09L614.99 166.08L613.99 166.07L612.98 166.07L611.98 166.06L610.98 166.04L609.97 166.03L608.97 166.02L607.97 166.01L606.96 165.99L605.96 165.98L604.96 165.96L603.95 165.95L602.95 165.93L601.95 165.91L600.95 165.89L599.94 165.87L598.94 165.84L597.94 165.82L596.93 165.79L595.93 165.77L594.93 165.74L593.92 165.71L592.92 165.68L591.92 165.65L590.91 165.61L589.91 165.58L588.91 165.54L587.90 165.50L586.90 165.46L585.90 165.42L584.89 165.38L583.89 165.33L582.89 165.29L581.89 165.24L580.88 165.19L579.88 165.14L578.88 165.08L577.87 165.03L576.87 164.97L575.87 164.91L574.86 164.85L573.86 164.79L572.86 164.72L571.86 164.65L570.85 164.58L569.85 164.51L568.85 164.44L567.84 164.36L566.84 164.28L565.84 164.20L564.83 164.12L563.83 164.03L562.83 163.95L561.83 163.86L560.82 163.76L559.82 163.67L558.82 163.57L557.81 163.47L556.81 163.37L555.81 163.26L554.81 163.15L553.80 163.04L552.80 162.93L551.80 162.81L550.79 162.70L549.79 162.57L548.79 162.45L547.79 162.32L546.78 162.19L545.78 162.06L544.78 161.92L543.78 161.78L542.77 161.64L541.77 161.50L540.77 161.35L539.76 161.20L538.76 161.04L537.76 160.89L536.76 160.73L535.75 160.56L534.75 160.39L533.75 160.22L532.75 160.05L531.74 159.87L530.74 159.69L529.74 159.51L528.73 159.32L527.73 159.13L526.73 158.93L525.73 158.74L524.72 158.53L523.72 158.33L522.72 158.12L521.72 157.91L520.71 157.69L519.71 157.47L518.71 157.25L517.71 157.02L516.70 156.79L515.70 156.55L514.70 156.31L513.69 156.07L512.69 155.82L511.69 155.57L510.69 155.31L509.68 155.05L508.68 154.79L507.68 154.52L506.68 154.25L505.67 153.97L504.67 153.69L503.67 153.40L502.67 153.12L501.66 152.82L500.66 152.52L499.66 152.22L498.66 151.91L497.65 151.60L496.65 151.29L495.65 150.97L494.65 150.64L493.64 150.31L492.64 149.98L491.64 149.64L490.64 149.29L489.63 148.95L488.63 148.59L487.63 148.23L486.63 147.87L485.62 147.50L484.62 147.13L483.62 146.75L482.62 146.37L481.61 145.98L480.61 145.59L479.61 145.19L478.61 144.79L477.60 144.38L476.60 143.97L475.60 143.55L474.60 143.13L473.59 142.70L472.59 142.26L471.59 141.83L470.59 141.38L469.58 140.93L468.58 140.48L467.58 140.01L466.58 139.55L465.57 139.08L464.57 138.60L463.57 138.12L462.57 137.63L461.56 137.13L460.56 136.63L459.56 136.13L458.56 135.61L457.55 135.10L456.55 134.57L455.55 134.05L454.55 133.51L453.54 132.97L452.54 132.42L451.54 131.87L450.54 131.31L449.53 130.75L448.53 130.18L447.53 129.60L446.53 129.02L445.52 128.43L444.52 127.83L443.52 127.23L442.52 126.62L441.51 126.01L440.51 125.39L439.51 124.76L438.51 124.13L437.50 123.49L436.50 122.84L435.50 122.19L434.50 121.53L433.49 120.86L432.49 120.19L431.49 119.51L430.49 118.83L429.48 118.13L428.48 117.43L427.48 116.73L426.48 116.02L425.47 115.30L424.47 114.57L423.47 113.84L422.47 113.10L421.46 112.35L420.79 111.84L420.46 111.60L419.46 110.83L418.46 110.07L417.45 109.29L416.45 108.52L415.45 107.74L414.44 106.95L413.44 106.16L412.44 105.38L411.43 104.59L410.43 103.79L409.43 103.00L408.42 102.21L407.42 101.43L406.41 100.64L405.41 99.86L404.41 99.08L403.40 98.30L402.40 97.53L401.39 96.77L400.39 96.01L399.39 95.26L398.38 94.52L397.38 93.78L396.37 93.06L395.37 92.34L394.36 91.64L393.36 90.95L392.35 90.27L391.35 89.60L390.34 88.95L389.33 88.31L388.33 87.68L387.32 87.07L386.32 86.48L385.31 85.90L384.30 85.34L383.30 84.80L382.29 84.28L381.28 83.78L380.28 83.30L379.27 82.84L378.26 82.41L377.25 81.99L376.24 81.60L375.24 81.24L374.23 80.89L373.22 80.58L372.21 80.29L371.20 80.02L370.19 79.79L369.18 79.58L368.17 79.40L367.16 79.26L366.15 79.14L365.13 79.05L364.12 79.00L363.11 78.98L362.10 78.99L361.09 79.04L360.08 79.12L359.06 79.24L358.05 79.39L357.04 79.58L356.03 79.81L355.01 80.08L354.00 80.38L352.99 80.73L351.98 81.12L350.97 81.54L349.96 82.01L348.94 82.52L347.93 83.08L346.92 83.68L345.91 84.32L344.90 85.01L343.89 85.75L342.89 86.53L342.09 87.17L341.87 87.36L340.87 88.23L339.86 89.16L338.85 90.12L337.84 91.13L336.84 92.17L335.83 93.25L334.83 94.37L333.82 95.53L332.81 96.71L331.81 97.92L330.80 99.17L329.80 100.43L328.79 101.73L327.79 103.04L326.78 104.37L325.78 105.73L324.78 107.10L323.77 108.48L322.77 109.88L321.76 111.29L320.76 112.70L319.76 114.12L318.75 115.55L317.75 116.98L316.74 118.42L315.74 119.85L314.74 121.28L313.73 122.70L312.73 124.12L311.73 125.52L310.73 126.92L309.72 128.31L308.72 129.68L307.72 131.03L306.72 132.37L305.71 133.69L304.71 134.98L303.71 136.25L302.71 137.50L301.70 138.72L300.70 139.90L299.70 141.06L299.25 141.57L298.70 142.18L297.70 143.27L296.70 144.32L295.70 145.34L294.70 146.33L293.70 147.29L292.70 148.21L291.70 149.11L290.70 149.97L289.70 150.81L288.70 151.61L287.70 152.39L286.70 153.14L285.70 153.86L284.70 154.55L283.70 155.22L282.70 155.86L281.70 156.48L280.70 157.07L279.70 157.63L278.70 158.17L277.70 158.69L276.70 159.18L275.70 159.66L274.70 160.11L273.70 160.54L272.70 160.95L271.70 161.33L270.70 161.70L269.70 162.05L268.71 162.38L267.71 162.69L266.71 162.99L265.71 163.26L264.71 163.52L263.71 163.77L262.71 164.00L261.71 164.21L260.71 164.41L259.71 164.59L258.71 164.76L257.71 164.92L256.71 165.07L255.70 165.20L254.70 165.32L253.70 165.43L252.70 165.53L251.70 165.62L250.70 165.70L249.70 165.78L248.70 165.84L247.70 165.90L246.69 165.94L245.69 165.99L244.69 166.02L243.69 166.05L242.69 166.07L241.68 166.09L240.68 166.11L239.68 166.12L238.67 166.13L237.67 166.13L236.67 166.14L235.67 166.14L234.66 166.14L233.66 166.14L233.54 166.14Z" fill="#000" fill-opacity="0.8" stroke="none"/>
<path d="M299.44 166.64L299.89 166.64L300.89 166.64L301.90 166.64L302.90 166.64L303.90 166.64L304.91 166.65L305.91 166.65L306.91 166.65L307.92 166.66L308.92 166.67L309.92 166.68L310.93 166.69L311.93 166.71L312.93 166.73L313.93 166.75L314.94 166.77L315.94 166.80L316.94 166.83L317.94 166.86L318.95 166.90L319.95 166.94L320.95 166.99L321.95 167.04L322.96 167.10L323.96 167.16L324.96 167.22L325.96 167.29L326.96 167.37L327.97 167.45L328.97 167.54L329.97 167.64L330.97 167.74L331.97 167.85L332.98 167.96L333.98 168.09L334.98 168.22L335.98 168.35L336.98 168.50L337.98 168.65L338.99 168.81L339.99 168.98L340.99 169.16L341.99 169.35L342.20 169.39L342.99 169.54L343.99 169.75L344.99 169.96L346.00 170.18L347.00 170.41L348.00 170.65L349.00 170.89L350.00 171.15L351.00 171.41L352.01 171.68L353.01 171.95L354.01 172.23L355.01 172.52L356.01 172.81L357.02 173.12L358.02 173.42L359.02 173.73L360.02 174.05L361.03 174.37L362.03 174.70L363.03 175.03L364.03 175.37L365.04 175.71L366.04 176.06L367.04 176.40L368.04 176.76L369.05 177.11L370.05 177.47L371.05 177.84L372.06 178.20L373.06 178.57L374.06 178.94L375.07 179.31L376.07 179.68L377.07 180.06L378.07 180.44L379.08 180.82L380.08 181.20L381.08 181.58L382.09 181.96L383.09 182.34L384.10 182.72L385.10 183.10L386.10 183.48L387.11 183.87L388.11 184.25L389.11 184.63L390.12 185.00L391.12 185.38L392.12 185.76L393.13 186.13L394.13 186.50L395.14 186.87L396.14 187.24L397.14 187.60L398.15 187.96L399.15 188.32L400.16 188.67L401.16 189.03L402.17 189.37L403.17 189.72L404.17 190.06L405.18 190.39L406.18 190.72L407.19 191.05L408.19 191.37L409.20 191.68L410.20 191.99L411.21 192.29L412.21 192.59L413.22 192.88L414.22 193.17L415.23 193.45L416.23 193.72L417.24 193.98L418.24 194.24L419.25 194.49L420.25 194.73L420.58 194.81L421.26 194.97L422.26 195.20L423.27 195.41L424.27 195.62L425.28 195.83L426.28 196.02L427.29 196.21L428.29 196.39L429.30 196.56L430.31 196.73L431.31 196.88L432.32 197.03L433.32 197.18L434.33 197.31L435.33 197.44L436.34 197.56L437.34 197.68L438.35 197.79L439.35 197.89L440.36 197.98L441.36 198.07L442.37 198.15L443.37 198.22L444.38 198.29L445.38 198.35L446.39 198.40L447.39 198.45L448.40 198.49L449.40 198.53L450.41 198.56L451.41 198.58L452.42 198.60L453.42 198.61L454.43 198.62L455.43 198.61L456.44 198.61L457.44 198.60L458.45 198.58L459.45 198.55L460.46 198.53L461.46 198.49L462.47 198.45L463.47 198.41L464.48 198.36L465.48 198.30L466.49 198.24L467.49 198.17L468.50 198.10L469.50 198.03L470.51 197.95L471.51 197.86L472.51 197.77L473.52 197.68L474.52 197.58L475.53 197.47L476.53 197.36L477.54 197.25L478.54 197.13L479.55 197.01L480.55 196.89L481.56 196.76L482.56 196.62L483.57 196.48L484.57 196.34L485.57 196.19L486.58 196.04L487.58 195.89L488.59 195.73L489.59 195.57L490.60 195.41L491.60 195.24L492.60 195.07L493.61 194.89L494.61 194.71L495.62 194.53L496.62 194.35L497.63 194.16L498.63 193.97L499.63 193.77L500.64 193.57L501.64 193.37L502.65 193.17L503.65 192.96L504.66 192.76L505.66 192.54L506.66 192.33L507.67 192.11L508.67 191.90L509.68 191.68L510.68 191.45L511.68 191.23L512.69 191.00L513.69 190.77L514.70 190.54L515.70 190.30L516.70 190.07L517.71 189.83L518.71 189.59L519.72 189.35L520.72 189.10L521.72 188.86L522.73 188.61L523.73 188.37L524.73 188.12L525.74 187.87L526.74 187.61L527.75 187.36L528.75 187.11L529.75 186.85L530.76 186.60L531.76 186.34L532.76 186.08L533.77 185.82L534.77 185.56L535.78 185.30L536.78 185.04L537.78 184.78L538.79 184.52L539.79 184.25L540.79 183.99L541.80 183.73L542.80 183.46L543.80 183.20L544.81 182.94L545.81 182.67L546.81 182.41L547.82 182.14L548.82 181.88L549.83 181.62L550.83 181.35L551.83 181.09L552.84 180.83L553.84 180.56L554.84 180.30L555.85 180.04L556.85 179.78L557.85 179.52L558.86 179.26L559.86 179.00L560.86 178.74L561.87 178.49L562.87 178.23L563.87 177.98L564.88 177.73L565.88 177.47L566.88 177.22L567.88 176.97L568.89 176.72L569.89 176.48L570.89 176.23L571.90 175.99L572.90 175.75L573.90 175.51L574.91 175.27L575.91 175.03L576.91 174.80L577.92 174.57L578.92 174.33L579.92 174.11L580.92 173.88L581.93 173.66L582.93 173.43L583.93 173.21L584.94 173.00L585.94 172.78L586.94 172.57L587.95 172.36L588.95 172.16L589.95 171.95L590.95 171.75L591.96 171.55L592.96 171.36L593.96 171.16L594.96 170.98L595.97 170.79L596.97 170.61L597.97 170.43L598.98 170.25L599.98 170.08L600.98 169.91L601.98 169.74L602.99 169.58L603.99 169.42L604.99 169.27L605.99 169.11L607.00 168.97L608.00 168.82L609.00 168.68L610.00 168.55L611.01 168.42L612.01 168.29L613.01 168.17L614.01 168.05L615.02 167.93L616.02 167.82L617.02 167.72L618.02 167.62L619.03 167.52L620.03 167.43L621.03 167.34L622.03 167.26L623.04 167.18L624.04 167.11L625.04 167.04L626.04 166.98L627.04 166.92L628.05 166.87L629.05 166.82L630.05 166.78L631.05 166.74L632.06 166.71L633.06 166.69L634.06 166.67L635.06 166.65L636.06 166.64L637.07 166.64L637.07 166.14L636.06 166.14L635.06 166.15L634.05 166.17L633.05 166.19L632.04 166.21L631.04 166.24L630.03 166.28L629.03 166.32L628.02 166.37L627.02 166.42L626.01 166.48L625.01 166.54L624.00 166.61L623.00 166.68L621.99 166.76L620.99 166.84L619.98 166.93L618.98 167.02L617.97 167.12L616.97 167.22L615.97 167.33L614.96 167.44L613.96 167.55L612.95 167.67L611.95 167.79L610.94 167.92L609.94 168.05L608.93 168.19L607.93 168.33L606.93 168.47L605.92 168.62L604.92 168.77L603.91 168.93L602.91 169.09L601.90 169.25L600.90 169.41L599.89 169.58L598.89 169.76L597.89 169.93L596.88 170.11L595.88 170.30L594.87 170.48L593.87 170.67L592.86 170.87L591.86 171.06L590.86 171.26L589.85 171.46L588.85 171.67L587.84 171.87L586.84 172.08L585.84 172.29L584.83 172.51L583.83 172.73L582.82 172.95L581.82 173.17L580.82 173.39L579.81 173.62L578.81 173.85L577.80 174.08L576.80 174.31L575.80 174.55L574.79 174.78L573.79 175.02L572.78 175.26L571.78 175.50L570.78 175.75L569.77 175.99L568.77 176.24L567.76 176.49L566.76 176.74L565.76 176.99L564.75 177.24L563.75 177.49L562.75 177.75L561.74 178.00L560.74 178.26L559.73 178.52L558.73 178.78L557.73 179.04L556.72 179.30L555.72 179.56L554.72 179.82L553.71 180.08L552.71 180.34L551.71 180.61L550.70 180.87L549.70 181.13L548.69 181.40L547.69 181.66L546.69 181.92L545.68 182.19L544.68 182.45L543.68 182.72L542.67 182.98L541.67 183.24L540.67 183.51L539.66 183.77L538.66 184.03L537.66 184.29L536.65 184.56L535.65 184.82L534.65 185.08L533.64 185.34L532.64 185.60L531.64 185.85L530.63 186.11L529.63 186.37L528.63 186.62L527.62 186.88L526.62 187.13L525.62 187.38L524.61 187.63L523.61 187.88L522.61 188.13L521.60 188.37L520.60 188.62L519.60 188.86L518.59 189.10L517.59 189.34L516.59 189.58L515.59 189.82L514.58 190.05L513.58 190.28L512.58 190.51L511.57 190.74L510.57 190.96L509.57 191.19L508.56 191.41L507.56 191.63L506.56 191.84L505.56 192.06L504.55 192.27L503.55 192.48L502.55 192.68L501.54 192.88L500.54 193.08L499.54 193.28L498.54 193.47L497.53 193.67L496.53 193.85L495.53 194.04L494.52 194.22L493.52 194.40L492.52 194.57L491.52 194.75L490.51 194.91L489.51 195.08L488.51 195.24L487.51 195.40L486.50 195.55L485.50 195.70L484.50 195.85L483.50 195.99L482.49 196.13L481.49 196.26L480.49 196.39L479.49 196.52L478.48 196.64L477.48 196.75L476.48 196.87L475.48 196.98L474.47 197.08L473.47 197.18L472.47 197.27L471.47 197.36L470.46 197.45L469.46 197.53L468.46 197.60L467.46 197.68L466.46 197.74L465.45 197.80L464.45 197.86L463.45 197.91L462.45 197.95L461.44 197.99L460.44 198.03L459.44 198.06L458.44 198.08L457.44 198.10L456.43 198.11L455.43 198.11L454.43 198.12L453.43 198.11L452.43 198.10L451.42 198.08L450.42 198.06L449.42 198.03L448.42 197.99L447.42 197.95L446.41 197.90L445.41 197.85L444.41 197.79L443.41 197.72L442.41 197.65L441.40 197.57L440.40 197.48L439.40 197.39L438.40 197.29L437.40 197.18L436.40 197.07L435.39 196.95L434.39 196.82L433.39 196.68L432.39 196.54L431.39 196.39L430.38 196.23L429.38 196.07L428.38 195.90L427.38 195.72L426.38 195.53L425.38 195.34L424.37 195.13L423.37 194.92L422.37 194.71L421.37 194.48L420.70 194.33L420.37 194.25L419.37 194.01L418.36 193.76L417.36 193.50L416.36 193.24L415.36 192.97L414.36 192.69L413.35 192.40L412.35 192.11L411.35 191.82L410.35 191.51L409.35 191.20L408.34 190.89L407.34 190.57L406.34 190.25L405.34 189.92L404.33 189.58L403.33 189.24L402.33 188.90L401.33 188.55L400.32 188.20L399.32 187.85L398.32 187.49L397.31 187.13L396.31 186.77L395.31 186.40L394.31 186.03L393.30 185.66L392.30 185.29L391.30 184.91L390.29 184.54L389.29 184.16L388.29 183.78L387.28 183.40L386.28 183.02L385.28 182.64L384.27 182.25L383.27 181.87L382.27 181.49L381.26 181.11L380.26 180.73L379.25 180.35L378.25 179.97L377.25 179.59L376.24 179.22L375.24 178.84L374.24 178.47L373.23 178.10L372.23 177.73L371.22 177.37L370.22 177.00L369.22 176.64L368.21 176.29L367.21 175.93L366.20 175.58L365.20 175.24L364.19 174.90L363.19 174.56L362.19 174.23L361.18 173.90L360.18 173.57L359.17 173.26L358.17 172.94L357.16 172.64L356.16 172.34L355.15 172.04L354.15 171.75L353.14 171.47L352.14 171.19L351.13 170.93L350.13 170.66L349.12 170.41L348.12 170.16L347.11 169.92L346.11 169.69L345.10 169.47L344.10 169.26L343.09 169.05L342.30 168.90L342.08 168.85L341.08 168.67L340.07 168.49L339.07 168.32L338.06 168.16L337.06 168.00L336.05 167.86L335.05 167.72L334.04 167.59L333.03 167.47L332.03 167.35L331.02 167.24L330.02 167.14L329.01 167.05L328.01 166.96L327.00 166.87L326.00 166.80L324.99 166.72L323.99 166.66L322.99 166.60L321.98 166.54L320.98 166.49L319.97 166.44L318.97 166.40L317.96 166.36L316.96 166.33L315.95 166.30L314.95 166.27L313.94 166.25L312.94 166.23L311.94 166.21L310.93 166.19L309.93 166.18L308.92 166.17L307.92 166.16L306.92 166.15L305.91 166.15L304.91 166.15L303.90 166.14L302.90 166.14L301.90 166.14L300.89 166.14L299.89 166.14L299.44 166.14Z" fill="#000" fill-opacity="0.8" stroke="none"/>
<path d="M342.25 166.64L343.04 166.64L344.04 166.64L345.05 166.64L346.05 166.64L347.05 166.64L348.06 166.64L349.06 166.64L350.06 166.64L351.07 166.64L352.07 166.64L353.08 166.64L354.08 166.64L355.08 166.64L356.09 166.64L357.09 166.64L358.09 166.64L359.10 166.64L360.10 166.64L361.10 166.64L362.11 166.64L363.11 166.65L364.11 166.65L365.12 166.65L366.12 166.65L367.12 166.65L368.13 166.65L369.13 166.65L370.13 166.65L371.14 166.65L372.14 166.66L373.15 166.66L374.15 166.66L375.15 166.66L376.16 166.66L377.16 166.66L378.16 166.67L379.17 166.67L380.17 166.67L381.17 166.67L382.18 166.68L383.18 166.68L384.18 166.68L385.19 166.69L386.19 166.69L387.19 166.69L388.20 166.70L389.20 166.70L390.20 166.70L391.21 166.71L392.21 166.71L393.21 166.72L394.22 166.72L395.22 166.73L396.22 166.73L397.23 166.74L398.23 166.74L399.24 166.75L400.24 166.75L401.24 166.76L402.25 166.76L403.25 166.77L404.25 166.78L405.26 166.78L406.26 166.79L407.26 166.80L408.27 166.81L409.27 166.81L410.27 166.82L411.28 166.83L412.28 166.84L413.28 166.85L414.29 166.86L415.29 166.86L416.29 166.87L417.30 166.88L418.30 166.89L419.30 166.90L420.31 166.91L420.64 166.92L421.31 166.92L422.31 166.94L423.32 166.95L424.32 166.96L425.32 166.97L426.33 166.98L427.33 166.99L428.33 167.01L429.34 167.02L430.34 167.03L431.35 167.05L432.35 167.06L433.35 167.07L434.36 167.09L435.36 167.10L436.36 167.11L437.37 167.13L438.37 167.14L439.37 167.16L440.38 167.17L441.38 167.19L442.38 167.20L443.39 167.22L444.39 167.23L445.39 167.25L446.40 167.27L447.40 167.28L448.40 167.30L449.41 167.31L450.41 167.33L451.41 167.35L452.42 167.36L453.42 167.38L454.42 167.40L455.43 167.41L456.43 167.43L457.44 167.45L458.44 167.46L459.44 167.48L460.45 167.50L461.45 167.52L462.45 167.53L463.46 167.55L464.46 167.57L465.46 167.59L466.47 167.60L467.47 167.62L468.47 167.64L469.48 167.66L470.48 167.67L471.48 167.69L472.49 167.71L473.49 167.73L474.49 167.74L475.50 167.76L476.50 167.78L477.51 167.80L478.51 167.82L479.51 167.83L480.52 167.85L481.52 167.87L482.52 167.88L483.53 167.90L484.53 167.92L485.53 167.94L486.54 167.95L487.54 167.97L488.54 167.99L489.55 168.00L490.55 168.02L491.55 168.04L492.56 168.05L493.56 168.07L494.56 168.09L495.57 168.10L496.57 168.12L497.58 168.14L498.58 168.15L499.58 168.17L500.59 168.18L501.59 168.20L502.59 168.21L503.60 168.23L504.60 168.24L505.60 168.26L506.61 168.27L507.61 168.29L508.61 168.30L509.62 168.32L510.62 168.33L511.63 168.34L512.63 168.36L513.63 168.37L514.64 168.38L515.64 168.39L516.64 168.41L517.65 168.42L518.65 168.43L519.65 168.44L520.66 168.45L521.66 168.47L522.66 168.48L523.67 168.49L524.67 168.50L525.68 168.51L526.68 168.52L527.68 168.53L528.69 168.54L529.69 168.55L530.69 168.55L531.70 168.56L532.70 168.57L533.70 168.58L534.71 168.59L535.71 168.59L536.71 168.60L537.72 168.61L538.72 168.61L539.73 168.62L540.73 168.62L541.73 168.63L542.74 168.63L543.74 168.64L544.74 168.64L545.75 168.64L546.75 168.65L547.75 168.65L548.76 168.65L549.76 168.65L550.76 168.65L551.77 168.66L552.77 168.66L553.78 168.66L554.78 168.66L555.78 168.65L556.79 168.65L557.79 168.65L558.79 168.65L559.80 168.65L560.80 168.64L561.80 168.64L562.81 168.64L563.81 168.63L564.82 168.63L565.82 168.62L566.82 168.62L567.83 168.61L568.83 168.60L569.83 168.59L570.84 168.59L571.84 168.58L572.84 168.57L573.85 168.56L574.85 168.55L575.86 168.54L576.86 168.53L577.86 168.52L578.87 168.50L579.87 168.49L580.87 168.48L581.88 168.46L582.88 168.45L583.88 168.43L584.89 168.42L585.89 168.40L586.90 168.38L587.90 168.37L588.90 168.35L589.91 168.33L590.91 168.31L591.91 168.29L592.92 168.27L593.92 168.25L594.92 168.22L595.93 168.20L596.93 168.18L597.94 168.15L598.94 168.13L599.94 168.10L600.95 168.08L601.95 168.05L602.95 168.02L603.96 168.00L604.96 167.97L605.96 167.94L606.97 167.91L607.97 167.88L608.98 167.84L609.98 167.81L610.98 167.78L611.99 167.74L612.99 167.71L613.99 167.67L615.00 167.64L616.00 167.60L617.01 167.56L618.01 167.52L619.01 167.49L620.02 167.45L621.02 167.40L622.02 167.36L623.03 167.32L624.03 167.28L625.04 167.23L626.04 167.19L627.04 167.14L628.05 167.10L629.05 167.05L630.05 167.00L631.06 166.95L632.06 166.90L633.06 166.85L634.07 166.80L635.07 166.75L636.08 166.69L637.08 166.64L637.05 166.14L636.05 166.19L635.05 166.25L634.04 166.30L633.04 166.35L632.04 166.40L631.03 166.45L630.03 166.50L629.03 166.55L628.02 166.60L627.02 166.64L626.02 166.69L625.01 166.73L624.01 166.78L623.01 166.82L622.00 166.86L621.00 166.91L620.00 166.95L618.99 166.99L617.99 167.03L616.99 167.06L615.98 167.10L614.98 167.14L613.98 167.17L612.97 167.21L611.97 167.24L610.97 167.28L609.96 167.31L608.96 167.34L607.96 167.38L606.95 167.41L605.95 167.44L604.95 167.47L603.94 167.50L602.94 167.52L601.94 167.55L600.93 167.58L599.93 167.60L598.93 167.63L597.92 167.65L596.92 167.68L595.92 167.70L594.91 167.72L593.91 167.75L592.91 167.77L591.90 167.79L590.90 167.81L589.90 167.83L588.89 167.85L587.89 167.87L586.89 167.88L585.88 167.90L584.88 167.92L583.88 167.93L582.87 167.95L581.87 167.96L580.87 167.98L579.86 167.99L578.86 168.00L577.86 168.02L576.85 168.03L575.85 168.04L574.85 168.05L573.84 168.06L572.84 168.07L571.84 168.08L570.83 168.09L569.83 168.09L568.83 168.10L567.82 168.11L566.82 168.12L565.82 168.12L564.81 168.13L563.81 168.13L562.81 168.14L561.80 168.14L560.80 168.14L559.80 168.15L558.79 168.15L557.79 168.15L556.79 168.15L555.78 168.15L554.78 168.16L553.78 168.16L552.77 168.16L551.77 168.16L550.77 168.15L549.76 168.15L548.76 168.15L547.76 168.15L546.75 168.15L545.75 168.14L544.74 168.14L543.74 168.14L542.74 168.13L541.73 168.13L540.73 168.12L539.73 168.12L538.72 168.11L537.72 168.11L536.72 168.10L535.71 168.09L534.71 168.09L533.71 168.08L532.70 168.07L531.70 168.06L530.70 168.05L529.69 168.05L528.69 168.04L527.69 168.03L526.68 168.02L525.68 168.01L524.68 168.00L523.67 167.99L522.67 167.98L521.67 167.97L520.66 167.95L519.66 167.94L518.66 167.93L517.65 167.92L516.65 167.91L515.65 167.89L514.64 167.88L513.64 167.87L512.64 167.86L511.63 167.84L510.63 167.83L509.62 167.82L508.62 167.80L507.62 167.79L506.61 167.77L505.61 167.76L504.61 167.74L503.60 167.73L502.60 167.71L501.60 167.70L500.59 167.68L499.59 167.67L498.59 167.65L497.58 167.64L496.58 167.62L495.58 167.60L494.57 167.59L493.57 167.57L492.57 167.55L491.56 167.54L490.56 167.52L489.56 167.50L488.55 167.49L487.55 167.47L486.55 167.45L485.54 167.44L484.54 167.42L483.53 167.40L482.53 167.39L481.53 167.37L480.52 167.35L479.52 167.33L478.52 167.32L477.51 167.30L476.51 167.28L475.51 167.26L474.50 167.25L473.50 167.23L472.50 167.21L471.49 167.19L470.49 167.17L469.49 167.16L468.48 167.14L467.48 167.12L466.48 167.10L465.47 167.09L464.47 167.07L463.46 167.05L462.46 167.03L461.46 167.02L460.45 167.00L459.45 166.98L458.45 166.97L457.44 166.95L456.44 166.93L455.44 166.91L454.43 166.90L453.43 166.88L452.43 166.86L451.42 166.85L450.42 166.83L449.42 166.81L448.41 166.80L447.41 166.78L446.40 166.77L445.40 166.75L444.40 166.73L443.39 166.72L442.39 166.70L441.39 166.69L440.38 166.67L439.38 166.66L438.38 166.64L437.37 166.63L436.37 166.61L435.37 166.60L434.36 166.59L433.36 166.57L432.36 166.56L431.35 166.55L430.35 166.53L429.34 166.52L428.34 166.51L427.34 166.49L426.33 166.48L425.33 166.47L424.33 166.46L423.32 166.45L422.32 166.44L421.32 166.42L420.64 166.42L420.31 166.41L419.31 166.40L418.31 166.39L417.30 166.38L416.30 166.37L415.29 166.36L414.29 166.36L413.29 166.35L412.28 166.34L411.28 166.33L410.28 166.32L409.27 166.31L408.27 166.31L407.27 166.30L406.26 166.29L405.26 166.28L404.26 166.28L403.25 166.27L402.25 166.26L401.25 166.26L400.24 166.25L399.24 166.25L398.23 166.24L397.23 166.24L396.23 166.23L395.22 166.23L394.22 166.22L393.22 166.22L392.21 166.21L391.21 166.21L390.21 166.20L389.20 166.20L388.20 166.20L387.20 166.19L386.19 166.19L385.19 166.19L384.18 166.18L383.18 166.18L382.18 166.18L381.17 166.17L380.17 166.17L379.17 166.17L378.16 166.17L377.16 166.16L376.16 166.16L375.15 166.16L374.15 166.16L373.15 166.16L372.14 166.16L371.14 166.15L370.14 166.15L369.13 166.15L368.13 166.15L367.12 166.15L366.12 166.15L365.12 166.15L364.11 166.15L363.11 166.15L362.11 166.14L361.10 166.14L360.10 166.14L359.10 166.14L358.09 166.14L357.09 166.14L356.09 166.14L355.08 166.14L354.08 166.14L353.08 166.14L352.07 166.14L351.07 166.14L350.07 166.14L349.06 166.14L348.06 166.14L347.05 166.14L346.05 166.14L345.05 166.14L344.04 166.14L343.04 166.14L342.25 166.14Z" fill="#000" fill-opacity="0.8" stroke="none"/>
<path d="M420.64 166.64L421.31 166.64L422.32 166.64L423.32 166.64L424.32 166.64L425.33 166.64L426.33 166.64L427.33 166.64L428.34 166.64L429.34 166.64L430.34 166.64L431.35 166.64L432.35 166.64L433.36 166.64L434.36 166.64L435.36 166.64L436.37 166.64L437.37 166.64L438.37 166.64L439.38 166.64L440.38 166.64L441.38 166.64L442.39 166.64L443.39 166.65L444.39 166.65L445.40 166.65L446.40 166.65L447.40 166.65L448.41 166.65L449.41 166.65L450.41 166.65L451.42 166.65L452.42 166.65L453.43 166.66L454.43 166.66L455.43 166.66L456.44 166.66L457.44 166.66L458.44 166.66L459.45 166.67L460.45 166.67L461.45 166.67L462.46 166.67L463.46 166.68L464.46 166.68L465.47 166.68L466.47 166.68L467.47 166.69L468.48 166.69L469.48 166.69L470.48 166.70L471.49 166.70L472.49 166.70L473.49 166.71L474.50 166.71L475.50 166.71L476.50 166.72L477.51 166.72L478.51 166.73L479.52 166.73L480.52 166.74L481.52 166.74L482.53 166.75L483.53 166.75L484.53 166.76L485.54 166.76L486.54 166.77L487.54 166.77L488.55 166.78L489.55 166.79L490.55 166.79L491.56 166.80L492.56 166.81L493.56 166.81L494.57 166.82L495.57 166.83L496.57 166.84L497.58 166.84L498.58 166.85L499.58 166.86L500.59 166.87L501.59 166.88L502.59 166.89L503.60 166.90L504.60 166.91L505.61 166.92L506.61 166.93L507.61 166.94L508.62 166.95L509.62 166.96L510.62 166.97L511.63 166.98L512.63 166.99L513.63 167.00L514.64 167.01L515.64 167.03L516.64 167.04L517.65 167.05L518.65 167.06L519.65 167.08L520.66 167.09L521.66 167.10L522.66 167.12L523.67 167.13L524.67 167.15L525.67 167.16L526.68 167.18L527.68 167.19L528.68 167.21L529.69 167.22L530.69 167.24L531.69 167.26L532.70 167.27L533.70 167.29L534.70 167.31L535.71 167.32L536.71 167.34L537.71 167.36L538.72 167.38L539.72 167.40L540.73 167.42L541.73 167.44L542.73 167.46L543.74 167.48L544.74 167.50L545.74 167.52L546.75 167.54L547.75 167.56L548.75 167.58L549.76 167.61L550.76 167.63L551.76 167.65L552.77 167.68L553.77 167.70L554.77 167.72L555.78 167.75L556.78 167.77L557.78 167.80L558.79 167.82L559.79 167.85L560.79 167.88L561.80 167.90L562.80 167.93L563.80 167.96L564.81 167.99L565.81 168.01L566.81 168.04L567.82 168.07L568.82 168.10L569.82 168.13L570.83 168.16L571.83 168.19L572.83 168.22L573.84 168.25L574.84 168.29L575.84 168.32L576.85 168.35L577.85 168.39L578.85 168.42L579.86 168.45L580.86 168.49L581.86 168.52L582.87 168.56L583.87 168.59L584.87 168.63L585.88 168.67L586.88 168.70L587.89 168.74L588.89 168.78L589.89 168.82L590.90 168.86L591.90 168.90L592.90 168.94L593.91 168.98L594.91 169.02L595.91 169.06L596.92 169.10L597.92 169.14L598.92 169.19L599.93 169.23L600.93 169.27L601.93 169.32L602.94 169.36L603.94 169.41L604.94 169.45L605.95 169.50L606.95 169.54L607.95 169.59L608.96 169.64L609.96 169.69L610.96 169.74L611.97 169.79L612.97 169.84L613.97 169.89L614.98 169.94L615.98 169.99L616.98 170.04L617.99 170.09L618.99 170.14L619.99 170.20L621.00 170.25L622.00 170.31L623.00 170.36L624.01 170.42L625.01 170.47L626.01 170.53L627.02 170.59L628.02 170.65L629.02 170.70L630.03 170.76L631.03 170.82L632.03 170.88L633.04 170.94L634.04 171.00L635.04 171.07L636.05 171.13L637.05 171.19L637.08 170.69L636.08 170.63L635.07 170.57L634.07 170.51L633.07 170.44L632.06 170.38L631.06 170.32L630.06 170.26L629.05 170.21L628.05 170.15L627.05 170.09L626.04 170.03L625.04 169.97L624.03 169.92L623.03 169.86L622.03 169.81L621.02 169.75L620.02 169.70L619.02 169.65L618.01 169.59L617.01 169.54L616.01 169.49L615.00 169.44L614.00 169.39L612.99 169.34L611.99 169.29L610.99 169.24L609.98 169.19L608.98 169.14L607.98 169.09L606.97 169.05L605.97 169.00L604.97 168.95L603.96 168.91L602.96 168.86L601.95 168.82L600.95 168.77L599.95 168.73L598.94 168.69L597.94 168.64L596.94 168.60L595.93 168.56L594.93 168.52L593.93 168.48L592.92 168.44L591.92 168.40L590.91 168.36L589.91 168.32L588.91 168.28L587.90 168.24L586.90 168.20L585.90 168.17L584.89 168.13L583.89 168.09L582.89 168.06L581.88 168.02L580.88 167.99L579.88 167.95L578.87 167.92L577.87 167.89L576.86 167.85L575.86 167.82L574.86 167.79L573.85 167.76L572.85 167.72L571.85 167.69L570.84 167.66L569.84 167.63L568.84 167.60L567.83 167.57L566.83 167.54L565.82 167.51L564.82 167.49L563.82 167.46L562.81 167.43L561.81 167.40L560.81 167.38L559.80 167.35L558.80 167.32L557.80 167.30L556.79 167.27L555.79 167.25L554.79 167.22L553.78 167.20L552.78 167.18L551.77 167.15L550.77 167.13L549.77 167.11L548.76 167.08L547.76 167.06L546.76 167.04L545.75 167.02L544.75 167.00L543.75 166.98L542.74 166.96L541.74 166.94L540.73 166.92L539.73 166.90L538.73 166.88L537.72 166.86L536.72 166.84L535.72 166.82L534.71 166.81L533.71 166.79L532.71 166.77L531.70 166.76L530.70 166.74L529.70 166.72L528.69 166.71L527.69 166.69L526.68 166.68L525.68 166.66L524.68 166.65L523.67 166.63L522.67 166.62L521.67 166.60L520.66 166.59L519.66 166.58L518.66 166.56L517.65 166.55L516.65 166.54L515.65 166.53L514.64 166.51L513.64 166.50L512.63 166.49L511.63 166.48L510.63 166.47L509.62 166.46L508.62 166.45L507.62 166.44L506.61 166.43L505.61 166.42L504.61 166.41L503.60 166.40L502.60 166.39L501.60 166.38L500.59 166.37L499.59 166.36L498.59 166.35L497.58 166.34L496.58 166.34L495.57 166.33L494.57 166.32L493.57 166.31L492.56 166.31L491.56 166.30L490.56 166.29L489.55 166.29L488.55 166.28L487.55 166.27L486.54 166.27L485.54 166.26L484.54 166.26L483.53 166.25L482.53 166.25L481.52 166.24L480.52 166.24L479.52 166.23L478.51 166.23L477.51 166.22L476.51 166.22L475.50 166.21L474.50 166.21L473.50 166.21L472.49 166.20L471.49 166.20L470.49 166.20L469.48 166.19L468.48 166.19L467.48 166.19L466.47 166.18L465.47 166.18L464.46 166.18L463.46 166.18L462.46 166.17L461.45 166.17L460.45 166.17L459.45 166.17L458.44 166.16L457.44 166.16L456.44 166.16L455.43 166.16L454.43 166.16L453.43 166.16L452.42 166.15L451.42 166.15L450.42 166.15L449.41 166.15L448.41 166.15L447.40 166.15L446.40 166.15L445.40 166.15L444.39 166.15L443.39 166.15L442.39 166.14L441.38 166.14L440.38 166.14L439.38 166.14L438.37 166.14L437.37 166.14L436.37 166.14L435.36 166.14L434.36 166.14L433.36 166.14L432.35 166.14L431.35 166.14L430.35 166.14L429.34 166.14L428.34 166.14L427.33 166.14L426.33 166.14L425.33 166.14L424.32 166.14L423.32 166.14L422.32 166.14L421.31 166.14L420.64 166.14Z" fill="#000" fill-opacity="0.8" stroke="none"/>
<path d="M85.14 156.62L86.14 158.63L87.15 160.54L88.15 162.37L89.16 164.10L90.16 165.75L91.16 167.31L92.17 168.79L93.17 170.19L94.17 171.50L95.18 172.73L96.18 173.89L97.18 174.97L98.19 175.97L99.19 176.91L100.19 177.77L101.20 178.56L102.20 179.28L103.20 179.94L104.21 180.53L105.21 181.06L106.21 181.53L107.22 181.94L108.22 182.29L109.22 182.58L110.23 182.82L111.23 183.01L112.24 183.15L113.24 183.23L114.24 183.27L115.25 183.26L116.25 183.20L117.25 183.10L118.26 182.96L119.26 182.79L120.26 182.57L121.27 182.31L122.27 182.02L123.27 181.70L124.28 181.35L125.28 180.96L126.28 180.55L127.29 180.11L128.29 179.65L129.30 179.16L130.30 178.65L131.30 178.12L132.31 177.57L133.31 177.01L134.31 176.42L135.32 175.83L136.32 175.22L137.32 174.61L138.33 173.98L139.33 173.35L140.33 172.72L141.34 172.07L142.34 171.43L143.34 170.79L144.35 170.15L145.35 169.51L146.35 168.87L147.36 168.25L148.36 167.63L149.37 167.02L150.37 166.42L151.37 165.83L152.38 165.26L153.38 164.70L154.38 164.16L155.39 163.65L156.39 163.15L157.39 162.67L158.40 162.22L159.40 161.80L160.40 161.40L161.41 161.03L162.41 160.70L163.41 160.39L164.42 160.12L165.42 159.89L166.42 159.69L167.43 159.54L168.43 159.42L169.44 159.35L170.44 159.32L171.44 159.34L172.45 159.40L173.45 159.51L174.45 159.68L175.46 159.89L176.46 160.16L177.46 160.49L178.47 160.87L179.47 161.32L180.47 161.82L181.48 162.38L182.48 163.01L183.48 163.71L184.49 164.47L185.49 165.30L186.49 166.20L187.50 167.18L188.50 168.22L189.50 169.35L190.51 170.55L191.51 171.83L192.52 173.19L193.52 174.63L194.52 176.15L195.53 177.76L196.53 179.46L197.53 181.25L198.54 183.12L199.54 185.09L200.54 187.16L201.55 189.31L202.55 191.57L203.55 193.92L204.56 196.37L205.56 198.93L206.56 201.59L207.57 204.35L208.57 207.22L209.57 210.20L210.58 213.29L211.58 216.49L212.59 219.81L213.59 223.24L214.59 226.78L215.60 230.45L216.60 234.23L217.60 238.14L218.61 242.17L219.53 245.99L219.61 246.32L220.61 250.60L221.62 254.99L222.62 259.46L223.62 264.01L224.63 268.62L225.63 273.26L226.63 277.93L227.64 282.60L228.64 287.27L229.64 291.90L230.65 296.48L231.65 301.00L232.66 305.45L233.54 309.28L233.66 309.79L234.66 314.02L235.67 318.14L236.67 322.15L237.67 326.04L238.68 329.82L239.68 333.49L240.68 337.04L241.69 340.47L242.69 343.80L243.69 347.01L244.70 350.10L245.70 353.08L246.70 355.94L247.71 358.69L248.71 361.32L249.72 363.84L250.72 366.24L251.72 368.52L252.73 370.69L253.73 372.75L254.73 374.68L255.74 376.50L256.74 378.20L257.74 379.79L258.75 381.26L259.75 382.61L260.75 383.84L261.76 384.95L262.76 385.95L263.76 386.83L264.77 387.59L265.77 388.23L266.77 388.75L267.78 389.15L268.78 389.44L269.79 389.60L270.79 389.65L271.79 389.57L272.80 389.38L273.80 389.06L274.80 388.63L275.81 388.07L276.81 387.40L277.81 386.60L278.82 385.68L279.82 384.64L280.82 383.48L281.83 382.20L282.83 380.79L283.83 379.27L284.84 377.62L285.84 375.85L286.84 373.95L287.85 371.94L288.85 369.80L289.86 367.54L290.86 365.15L291.86 362.64L292.87 360.01L293.87 357.26L294.87 354.38L295.88 351.37L296.88 348.24L297.88 344.99L298.89 341.61L299.44 339.70L299.89 338.11L300.89 334.48L301.90 330.74L302.90 326.89L303.90 322.93L304.91 318.88L305.91 314.73L306.91 310.50L307.92 306.18L308.92 301.79L309.93 297.33L310.93 292.81L311.93 288.23L312.94 283.60L313.94 278.93L314.94 274.21L315.95 269.46L316.95 264.69L317.95 259.89L318.96 255.08L319.96 250.26L320.96 245.43L321.97 240.61L322.97 235.80L323.97 231.00L324.98 226.22L325.98 221.46L326.98 216.74L327.99 212.06L328.99 207.42L330.00 202.83L331.00 198.30L332.00 193.82L333.01 189.42L334.01 185.09L335.01 180.84L336.02 176.67L337.02 172.60L338.02 168.62L339.03 164.75L340.03 160.99L341.03 157.34L342.04 153.81L342.25 153.07L343.04 150.41L344.04 147.13L345.05 143.99L346.05 140.96L347.05 138.06L348.06 135.27L349.06 132.60L350.07 130.05L351.07 127.62L352.07 125.29L353.08 123.08L354.08 120.97L355.08 118.98L356.09 117.08L357.09 115.29L358.09 113.60L359.10 112.01L360.10 110.52L361.10 109.13L362.11 107.82L363.11 106.61L364.11 105.49L365.12 104.46L366.12 103.52L367.12 102.66L368.13 101.88L369.13 101.19L370.14 100.57L371.14 100.03L372.14 99.57L373.15 99.18L374.15 98.86L375.15 98.62L376.16 98.44L377.16 98.32L378.16 98.28L379.17 98.29L380.17 98.37L381.17 98.50L382.18 98.70L383.18 98.95L384.18 99.25L385.19 99.60L386.19 100.00L387.19 100.46L388.20 100.95L389.20 101.50L390.21 102.08L391.21 102.71L392.21 103.37L393.22 104.08L394.22 104.81L395.22 105.59L396.23 106.39L397.23 107.22L398.23 108.08L399.24 108.97L400.24 109.88L401.24 110.81L402.25 111.77L403.25 112.74L404.25 113.73L405.26 114.74L406.26 115.76L407.26 116.79L408.27 117.83L409.27 118.88L410.28 119.93L411.28 120.99L412.28 122.05L413.29 123.11L414.29 124.17L415.29 125.23L416.30 126.28L417.30 127.32L418.30 128.36L419.31 129.39L420.31 130.40L420.64 130.73L421.31 131.40L422.32 132.38L423.32 133.35L424.32 134.31L425.33 135.25L426.33 136.18L427.33 137.09L428.34 137.99L429.34 138.87L430.35 139.74L431.35 140.60L432.35 141.44L433.36 142.27L434.36 143.09L435.36 143.89L436.37 144.68L437.37 145.46L438.37 146.22L439.38 146.97L440.38 147.71L441.38 148.43L442.39 149.14L443.39 149.84L444.39 150.52L445.40 151.20L446.40 151.86L447.40 152.51L448.41 153.14L449.41 153.77L450.42 154.38L451.42 154.98L452.42 155.57L453.43 156.14L454.43 156.71L455.43 157.26L456.44 157.80L457.44 158.33L458.44 158.85L459.45 159.36L460.45 159.86L461.45 160.34L462.46 160.82L463.46 161.28L464.46 161.74L465.47 162.18L466.47 162.61L467.47 163.03L468.48 163.44L469.48 163.84L470.49 164.24L471.49 164.62L472.49 164.99L473.50 165.35L474.50 165.70L475.50 166.04L476.51 166.37L477.51 166.69L478.51 167.01L479.52 167.31L480.52 167.61L481.52 167.89L482.53 168.17L483.53 168.43L484.53 168.69L485.54 168.94L486.54 169.18L487.54 169.42L488.55 169.64L489.55 169.86L490.56 170.06L491.56 170.26L492.56 170.45L493.57 170.64L494.57 170.81L495.57 170.98L496.58 171.14L497.58 171.29L498.58 171.44L499.59 171.57L500.59 171.70L501.59 171.82L502.60 171.94L503.60 172.05L504.60 172.15L505.61 172.24L506.61 172.33L507.61 172.41L508.62 172.49L509.62 172.55L510.63 172.62L511.63 172.67L512.63 172.72L513.64 172.76L514.64 172.80L515.64 172.83L516.65 172.85L517.65 172.87L518.65 172.89L519.66 172.90L520.66 172.90L521.66 172.89L522.67 172.89L523.67 172.87L524.67 172.85L525.68 172.83L526.68 172.80L527.68 172.77L528.69 172.73L529.69 172.69L530.70 172.64L531.70 172.59L532.70 172.54L533.71 172.48L534.71 172.41L535.71 172.34L536.72 172.27L537.72 172.19L538.72 172.11L539.73 172.03L540.73 171.94L541.73 171.85L542.74 171.76L543.74 171.66L544.74 171.56L545.75 171.46L546.75 171.35L547.75 171.24L548.76 171.13L549.76 171.01L550.77 170.90L551.77 170.78L552.77 170.65L553.78 170.53L554.78 170.40L555.78 170.27L556.79 170.14L557.79 170.01L558.79 169.87L559.80 169.73L560.80 169.59L561.80 169.45L562.81 169.31L563.81 169.17L564.81 169.02L565.82 168.88L566.82 168.73L567.82 168.58L568.83 168.43L569.83 168.28L570.84 168.13L571.84 167.98L572.84 167.83L573.85 167.67L574.85 167.52L575.85 167.37L576.86 167.21L577.86 167.06L578.86 166.90L579.87 166.75L580.87 166.60L581.87 166.44L582.88 166.29L583.88 166.14L584.88 165.99L585.89 165.84L586.89 165.69L587.89 165.54L588.90 165.39L589.90 165.24L590.91 165.09L591.91 164.95L592.91 164.80L593.92 164.66L594.92 164.52L595.92 164.38L596.93 164.24L597.93 164.10L598.93 163.97L599.94 163.84L600.94 163.71L601.94 163.58L602.95 163.45L603.95 163.33L604.95 163.21L605.96 163.09L606.96 162.97L607.96 162.86L608.97 162.75L609.97 162.64L610.98 162.54L611.98 162.44L612.98 162.34L613.99 162.24L614.99 162.15L615.99 162.06L617.00 161.98L618.00 161.90L619.00 161.82L620.01 161.74L621.01 161.67L622.01 161.61L623.02 161.55L624.02 161.49L625.02 161.44L626.03 161.39L627.03 161.34L628.03 161.30L629.04 161.27L630.04 161.24L631.05 161.21L632.05 161.19L633.05 161.18L634.06 161.17L635.06 161.16L636.06 161.17L637.07 161.17" stroke="#000" stroke-width="1.45" fill="none" stroke-linejoin="round" stroke-linecap="butt"/>
<g fill="none" stroke="#000" stroke-width="1.0">
<circle cx="85.14" cy="168.81" r="2.5"/><circle cx="91.16" cy="171.42" r="2.5"/><circle cx="95.18" cy="166.39" r="2.5"/><circle cx="99.19" cy="171.42" r="2.5"/><circle cx="121.27" cy="171.42" r="2.5"/><circle cx="125.28" cy="171.42" r="2.5"/><circle cx="127.29" cy="168.81" r="2.5"/><circle cx="137.32" cy="171.42" r="2.5"/><circle cx="141.34" cy="171.42" r="2.5"/><circle cx="147.36" cy="168.81" r="2.5"/><circle cx="147.36" cy="171.42" r="2.5"/><circle cx="155.39" cy="171.42" r="2.5"/><circle cx="159.40" cy="171.42" r="2.5"/><circle cx="161.41" cy="176.45" r="2.5"/><circle cx="165.42" cy="171.42" r="2.5"/><circle cx="169.44" cy="176.45" r="2.5"/><circle cx="173.45" cy="166.39" r="2.5"/><circle cx="191.51" cy="171.42" r="2.5"/><circle cx="195.53" cy="171.42" r="2.5"/><circle cx="197.53" cy="166.39" r="2.5"/><circle cx="205.56" cy="191.17" r="2.5"/><circle cx="205.56" cy="176.45" r="2.5"/><circle cx="205.56" cy="176.45" r="2.5"/><circle cx="205.56" cy="183.71" r="2.5"/><circle cx="205.56" cy="196.19" r="2.5"/><circle cx="205.56" cy="208.86" r="2.5"/><circle cx="207.57" cy="171.42" r="2.5"/><circle cx="213.59" cy="208.86" r="2.5"/><circle cx="213.59" cy="226.19" r="2.5"/><circle cx="213.59" cy="266.05" r="2.5"/><circle cx="213.59" cy="268.66" r="2.5"/><circle cx="215.60" cy="241.27" r="2.5"/><circle cx="215.60" cy="206.44" r="2.5"/><circle cx="217.60" cy="206.44" r="2.5"/><circle cx="217.60" cy="261.02" r="2.5"/><circle cx="219.61" cy="246.30" r="2.5"/><circle cx="219.61" cy="216.31" r="2.5"/><circle cx="221.62" cy="206.44" r="2.5"/><circle cx="221.62" cy="261.02" r="2.5"/><circle cx="221.62" cy="281.32" r="2.5"/><circle cx="223.62" cy="176.45" r="2.5"/><circle cx="223.62" cy="316.16" r="2.5"/><circle cx="225.63" cy="276.30" r="2.5"/><circle cx="227.64" cy="298.65" r="2.5"/><circle cx="227.64" cy="336.09" r="2.5"/><circle cx="227.64" cy="311.13" r="2.5"/><circle cx="235.67" cy="236.25" r="2.5"/><circle cx="235.67" cy="325.85" r="2.5"/><circle cx="235.67" cy="395.70" r="2.5"/><circle cx="235.67" cy="356.21" r="2.5"/><circle cx="237.67" cy="350.99" r="2.5"/><circle cx="237.67" cy="360.87" r="2.5"/><circle cx="245.70" cy="375.95" r="2.5"/><circle cx="245.70" cy="261.02" r="2.5"/><circle cx="251.72" cy="395.70" r="2.5"/><circle cx="253.73" cy="325.85" r="2.5"/><circle cx="253.73" cy="301.07" r="2.5"/><circle cx="255.74" cy="403.34" r="2.5"/><circle cx="261.76" cy="395.70" r="2.5"/><circle cx="263.76" cy="386.01" r="2.5"/><circle cx="271.79" cy="416.01" r="2.5"/><circle cx="273.80" cy="356.21" r="2.5"/><circle cx="277.81" cy="368.32" r="2.5"/><circle cx="279.82" cy="395.70" r="2.5"/><circle cx="291.86" cy="395.70" r="2.5"/><circle cx="293.87" cy="405.76" r="2.5"/><circle cx="299.89" cy="375.95" r="2.5"/><circle cx="301.90" cy="343.54" r="2.5"/><circle cx="301.90" cy="318.77" r="2.5"/><circle cx="305.91" cy="266.05" r="2.5"/><circle cx="309.93" cy="286.35" r="2.5"/><circle cx="309.93" cy="273.69" r="2.5"/><circle cx="313.94" cy="301.07" r="2.5"/><circle cx="313.94" cy="248.91" r="2.5"/><circle cx="315.95" cy="216.31" r="2.5"/><circle cx="319.96" cy="176.45" r="2.5"/><circle cx="321.97" cy="365.90" r="2.5"/><circle cx="321.97" cy="206.44" r="2.5"/><circle cx="323.97" cy="288.59" r="2.5"/><circle cx="330.00" cy="196.19" r="2.5"/><circle cx="332.00" cy="251.33" r="2.5"/><circle cx="332.00" cy="211.47" r="2.5"/><circle cx="332.00" cy="148.69" r="2.5"/><circle cx="336.02" cy="158.94" r="2.5"/><circle cx="342.04" cy="144.04" r="2.5"/><circle cx="344.04" cy="206.44" r="2.5"/><circle cx="344.04" cy="96.53" r="2.5"/><circle cx="346.05" cy="79.02" r="2.5"/><circle cx="354.08" cy="198.80" r="2.5"/><circle cx="362.11" cy="98.96" r="2.5"/><circle cx="370.13" cy="26.68" r="2.5"/><circle cx="372.14" cy="151.30" r="2.5"/><circle cx="380.17" cy="64.12" r="2.5"/><circle cx="380.17" cy="76.60" r="2.5"/><circle cx="388.20" cy="79.02" r="2.5"/><circle cx="394.22" cy="136.59" r="2.5"/><circle cx="398.23" cy="81.45" r="2.5"/><circle cx="404.25" cy="163.97" r="2.5"/><circle cx="408.27" cy="26.68" r="2.5"/><circle cx="412.28" cy="196.19" r="2.5"/><circle cx="412.28" cy="268.66" r="2.5"/><circle cx="414.29" cy="36.74" r="2.5"/><circle cx="416.30" cy="101.56" r="2.5"/><circle cx="416.30" cy="106.59" r="2.5"/><circle cx="422.32" cy="236.25" r="2.5"/><circle cx="422.32" cy="123.92" r="2.5"/><circle cx="440.38" cy="79.02" r="2.5"/><circle cx="440.38" cy="146.46" r="2.5"/><circle cx="452.42" cy="156.33" r="2.5"/><circle cx="454.43" cy="168.81" r="2.5"/><circle cx="460.45" cy="206.44" r="2.5"/><circle cx="464.46" cy="191.17" r="2.5"/><circle cx="476.51" cy="109.02" r="2.5"/><circle cx="476.51" cy="186.32" r="2.5"/><circle cx="484.53" cy="111.62" r="2.5"/><circle cx="488.55" cy="166.39" r="2.5"/><circle cx="488.55" cy="186.32" r="2.5"/><circle cx="490.56" cy="139.01" r="2.5"/><circle cx="500.59" cy="168.81" r="2.5"/><circle cx="504.60" cy="166.39" r="2.5"/><circle cx="510.62" cy="146.46" r="2.5"/><circle cx="526.68" cy="146.46" r="2.5"/><circle cx="538.72" cy="216.31" r="2.5"/><circle cx="538.72" cy="193.77" r="2.5"/><circle cx="548.76" cy="191.17" r="2.5"/><circle cx="566.82" cy="166.39" r="2.5"/><circle cx="580.87" cy="146.46" r="2.5"/><circle cx="592.91" cy="193.77" r="2.5"/><circle cx="610.97" cy="171.42" r="2.5"/><circle cx="610.97" cy="146.46" r="2.5"/><circle cx="614.99" cy="171.42" r="2.5"/><circle cx="637.07" cy="146.46" r="2.5"/>
</g>
</g>
<path d="M59.05 434.75v3.67M159.40 434.75v3.67M259.75 434.75v3.67M360.10 434.75v3.67M460.45 434.75v3.67M560.80 434.75v3.67M661.15 434.75v3.67M58.1 73.25h-3.67M58.1 166.39h-3.67M58.1 259.53h-3.67M58.1 352.67h-3.67" stroke="#333" stroke-width="1.42" fill="none"/>
<text transform="translate(58.85 450.9) scale(1.05 1)" text-anchor="middle">0</text><text transform="translate(159.20 450.9) scale(1.05 1)" text-anchor="middle">10</text><text transform="translate(259.55 450.9) scale(1.05 1)" text-anchor="middle">20</text><text transform="translate(359.90 450.9) scale(1.05 1)" text-anchor="middle">30</text><text transform="translate(460.25 450.9) scale(1.05 1)" text-anchor="middle">40</text><text transform="translate(560.60 450.9) scale(1.05 1)" text-anchor="middle">50</text><text transform="translate(660.95 450.9) scale(1.05 1)" text-anchor="middle">60</text><text transform="translate(50.7 77.60) scale(1.04 1)" text-anchor="end">50</text><text transform="translate(50.7 170.74) scale(1.04 1)" text-anchor="end">0</text><text transform="translate(50.7 263.88) scale(1.04 1)" text-anchor="end">-50</text><text transform="translate(50.7 357.02) scale(1.04 1)" text-anchor="end">-100</text>
</svg>
</body></html>
